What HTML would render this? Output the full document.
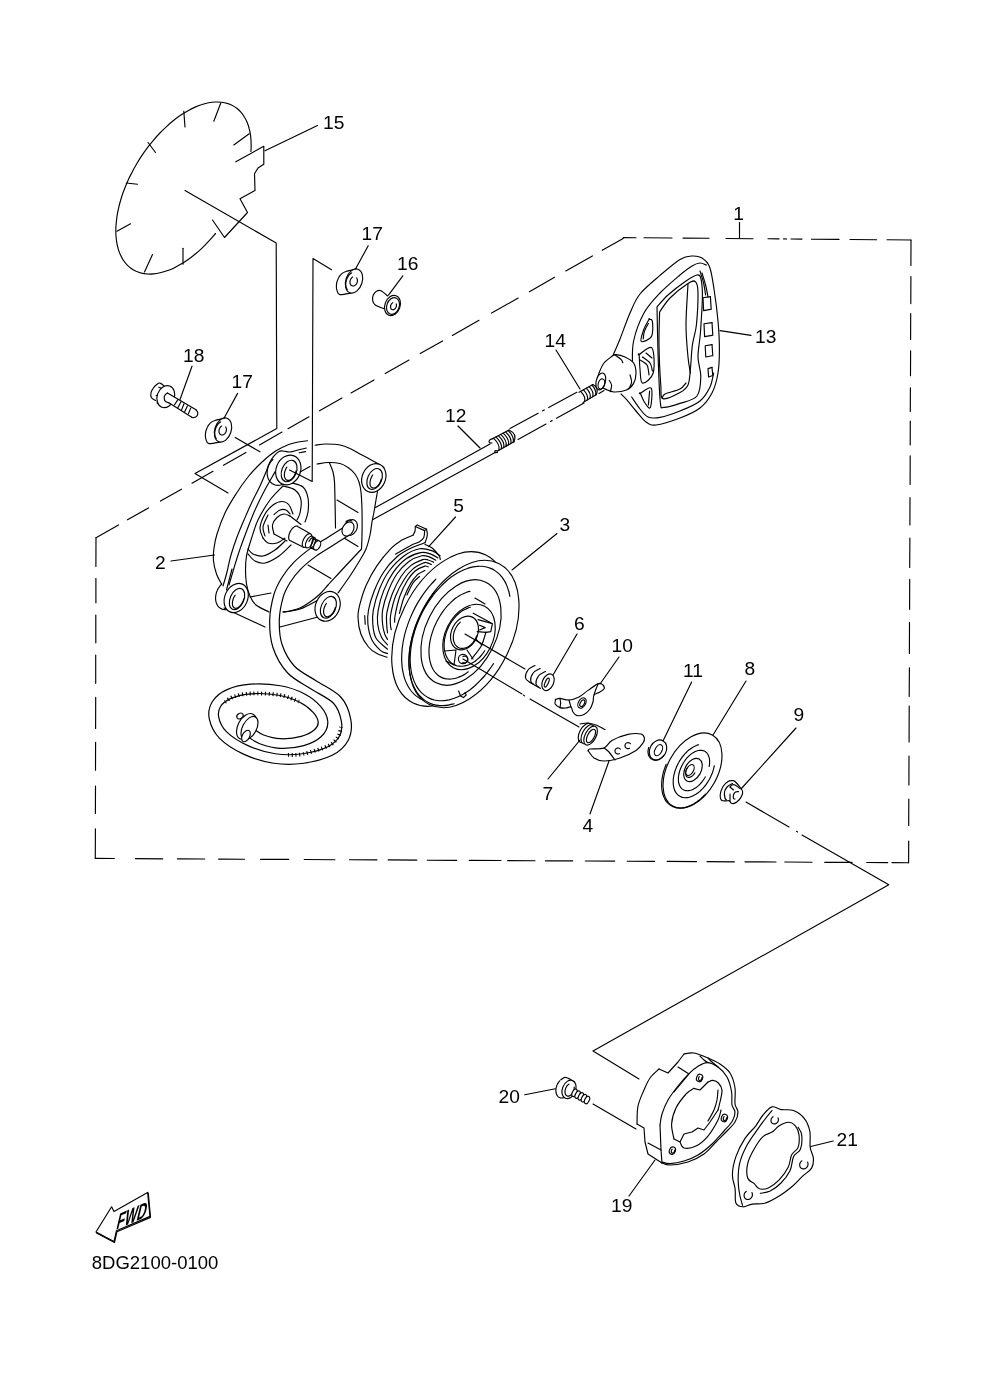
<!DOCTYPE html>
<html><head><meta charset="utf-8"><title>8DG2100-0100</title>
<style>
html,body{margin:0;padding:0;background:#fff;}
body{width:1000px;height:1381px;overflow:hidden;font-family:"Liberation Sans",sans-serif;}
svg{display:block;will-change:transform;filter:grayscale(1);}
svg path,svg ellipse,svg line{fill:none;stroke:#000;stroke-width:1.15;stroke-linecap:round;stroke-linejoin:round;}
svg text{font-family:"Liberation Sans",sans-serif;fill:#000;stroke:none;}
</style></head><body>
<svg width="1000" height="1381" viewBox="0 0 1000 1381">
<rect x="0" y="0" width="1000" height="1381" fill="#fff" stroke="none"/>
<path d="M96 537.7 L118.5 524.9"/>
<path d="M127.5 519.8 L148.5 507.9"/>
<path d="M160.5 501.1 L181.5 489.2"/>
<path d="M192 483.2 L213 471.3"/>
<path d="M223.5 465.3 L246 452.5"/>
<path d="M259.5 444.9 L282 432.1"/>
<path d="M288 428.7 L309 416.8"/>
<path d="M319.5 410.8 L342 398"/>
<path d="M351 392.9 L374 379.9"/>
<path d="M385.2 373.5 L409 360"/>
<path d="M420.2 353.6 L442.6 340.9"/>
<path d="M452.4 335.4 L479 320.3"/>
<path d="M491.6 313.1 L518.2 298"/>
<path d="M529.4 291.7 L554.6 277.3"/>
<path d="M565.8 271 L592.4 255.9"/>
<path d="M602.2 250.3 L623.2 238.4"/>
<path d="M623.2 237.6 L636 237.7"/>
<path d="M644 237.8 L672 238"/>
<path d="M683 238.1 L709 238.3"/>
<path d="M726 238.5 L753 238.7"/>
<path d="M768 238.8 L779 238.9"/>
<path d="M783.6 238.9 L786.7 239"/>
<path d="M791 239 L802 239.1"/>
<path d="M811.5 239.2 L839 239.4"/>
<path d="M850 239.5 L876.6 239.7"/>
<path d="M887 239.8 L911 240"/>
<path d="M911 240 L910.9 265.4"/>
<path d="M910.9 276.6 L910.8 303.6"/>
<path d="M910.7 313.6 L910.6 339.4"/>
<path d="M910.6 350.7 L910.5 375.8"/>
<path d="M910.4 387.7 L910.3 411.6"/>
<path d="M910.3 421 L910.2 445"/>
<path d="M910.2 455.8 L910.1 484.5"/>
<path d="M910 497.6 L909.9 525"/>
<path d="M909.9 538 L909.7 567.5"/>
<path d="M909.7 579.4 L909.6 609.3"/>
<path d="M909.5 622.4 L909.4 653.5"/>
<path d="M909.4 667.8 L909.2 696.5"/>
<path d="M909.2 706 L909.1 742"/>
<path d="M909 756 L908.9 785"/>
<path d="M908.8 799 L908.7 825.5"/>
<path d="M908.7 841 L908.6 862.7"/>
<path d="M95.3 858.4 L114.4 858.5"/>
<path d="M135.4 858.6 L162.7 858.8"/>
<path d="M177.4 858.8 L204.7 859"/>
<path d="M218.6 859.1 L244.6 859.2"/>
<path d="M260.6 859.3 L288.7 859.4"/>
<path d="M304.2 859.5 L334.9 859.7"/>
<path d="M349.6 859.7 L376.9 859.9"/>
<path d="M388.2 859.9 L416.8 860.1"/>
<path d="M427.3 860.2 L456.7 860.3"/>
<path d="M469.3 860.4 L501 860.5"/>
<path d="M507.6 860.6 L535 860.7"/>
<path d="M545.4 860.8 L572.7 860.9"/>
<path d="M585.3 861 L614.7 861.1"/>
<path d="M627.3 861.2 L654.6 861.4"/>
<path d="M667.2 861.4 L696.6 861.6"/>
<path d="M707 861.6 L734.4 861.8"/>
<path d="M745 861.8 L776 862"/>
<path d="M784.8 862 L812 862.2"/>
<path d="M824.7 862.3 L852 862.4"/>
<path d="M866.7 862.5 L887.7 862.6"/>
<path d="M892 862.6 L908.6 862.7"/>
<path d="M96 537.7 L95.9 566.4"/>
<path d="M95.9 578.5 L95.9 602.8"/>
<path d="M95.8 615 L95.8 642.8"/>
<path d="M95.7 655 L95.7 683.3"/>
<path d="M95.7 697.4 L95.6 728.4"/>
<path d="M95.6 742.3 L95.5 770.2"/>
<path d="M95.5 786 L95.4 813.4"/>
<path d="M95.4 828.9 L95.3 858.4"/>
<path d="M739.5 222.5 L739.5 238"/>
<text x="738.7" y="219.5" font-size="19.2" text-anchor="middle">1</text>
<path d="M250.9 151.5 C251 150.2 251.2 146.1 251.1 143.5 C251.1 140.9 250.9 138.4 250.6 135.9 C250.3 133.5 249.9 131.2 249.3 129 C248.8 126.8 248.1 124.7 247.3 122.7 C246.5 120.7 245.6 118.9 244.5 117.2 C243.5 115.4 242.4 113.9 241.1 112.4 C239.9 111 238.5 109.6 237.1 108.5 C235.6 107.3 234 106.3 232.4 105.5 C230.7 104.6 229 103.9 227.2 103.4 C225.4 102.8 223.5 102.4 221.5 102.2 C219.5 102 217.5 101.9 215.4 102 C213.3 102.1 211.1 102.3 208.9 102.7 C206.7 103.2 204.4 103.7 202.1 104.5 C199.8 105.2 197.5 106.1 195.1 107.1 C192.8 108.1 190.4 109.3 188 110.7 C185.7 112 183.3 113.5 180.9 115.1 C178.5 116.7 176.1 118.4 173.8 120.3 C171.4 122.2 169.1 124.2 166.8 126.3 C164.5 128.4 162.2 130.6 159.9 133 C157.7 135.3 155.5 137.7 153.4 140.3 C151.2 142.8 149.1 145.4 147.1 148.1 C145.1 150.8 143.2 153.5 141.3 156.4 C139.5 159.2 137.7 162.1 136 165 C134.3 167.9 132.7 170.9 131.2 173.9 C129.6 176.8 128.2 179.9 126.9 182.9 C125.6 185.9 124.4 189 123.3 192 C122.2 195 121.2 198.1 120.4 201 C119.5 204 118.8 207 118.2 210 C117.5 212.9 117 215.8 116.7 218.6 C116.3 221.4 116.1 224.2 115.9 226.9 C115.8 229.6 115.8 232.3 115.9 234.8 C116.1 237.4 116.3 239.8 116.7 242.2 C117.1 244.5 117.6 246.8 118.2 248.9 C118.8 251.1 119.6 253.1 120.5 255 C121.3 256.9 122.3 258.7 123.4 260.3 C124.5 262 125.7 263.5 127 264.8 C128.3 266.2 129.8 267.4 131.3 268.5 C132.8 269.6 134.4 270.5 136.1 271.3 C137.8 272 139.6 272.6 141.5 273.1 C143.3 273.5 145.3 273.8 147.3 274 C149.3 274.1 151.4 274.1 153.5 273.9 C155.7 273.7 157.9 273.3 160.1 272.8 C162.3 272.3 164.6 271.7 166.9 270.8 C169.2 270 171.6 269.1 174 267.9 C176.3 266.8 178.7 265.5 181.1 264.1 C183.5 262.7 185.9 261.1 188.2 259.5 C190.6 257.8 193 255.9 195.3 254 C197.7 252.1 200 250 202.3 247.8 C204.6 245.6 206.8 243.3 209 240.9 C211.3 238.5 214.4 234.7 215.5 233.5"/>
<path d="M212.5 220 L224.5 237.5 L247.5 212.5 L240 198.8 L255 190.5 L254.5 173.8 L258 168 L263.8 164.2 L263.8 146.2 L235.8 161.8"/>
<path d="M220.8 103 L213.8 121.2"/>
<path d="M183.8 111.2 L185 127"/>
<path d="M148 142.5 L155.5 152.5"/>
<path d="M126.2 183 L137.5 184.2"/>
<path d="M117 231.2 L130.5 223.8"/>
<path d="M144.5 272 L152.5 254.5"/>
<path d="M183 264.2 L183 248.2"/>
<path d="M249.2 133.8 L233.8 145"/>
<path d="M185 190.5 L276.2 243 L276.8 428.6 L195 473.5 L228 493"/>
<path d="M265 150.8 L317.5 125.5"/>
<text x="323" y="129" font-size="19.2" text-anchor="start">15</text>
<path d="M307.6 440.8 C306.1 441 301.7 441.3 298.4 442 C295.1 442.7 291.7 443.3 288 444.8 C284.3 446.3 280.5 447.8 276 450.8 C271.5 453.8 265.7 458.6 261 463 C256.3 467.4 252.2 471.8 248 477 C243.8 482.2 239.8 488 236 494 C232.2 500 228.2 506.3 225 513 C221.8 519.7 218.8 528.2 217 534 C215.2 539.8 214.6 543.5 214 548 C213.4 552.5 213.1 556.7 213.5 561 C213.9 565.3 215.2 570.2 216.5 574 C217.8 577.8 220.7 582.3 221.5 584"/>
<path d="M315.2 445.2 C317 445 321.9 444 326 444 C330.1 444 336 444.2 340 445 C344 445.8 346.3 446.8 350 448.5 C353.7 450.2 357.8 452.8 362 455 C366.2 457.2 371.3 459.9 375 462 C378.7 464.1 382.5 466.6 384 467.5"/>
<path d="M317 464 C318.8 463.8 324.2 462.6 328 462.5 C331.8 462.4 336.7 462.7 340 463.5 C343.3 464.3 345.5 465.8 348 467.5 C350.5 469.2 353.2 471.6 355 474 C356.8 476.4 358 479 359 482 C360 485 360.5 487.3 361 492 C361.5 496.7 361.8 502.8 362 510 C362.2 517.2 362.1 528.5 362 535 C361.9 541.5 361.6 546.7 361.5 549"/>
<path d="M361.5 549 C360.2 550.3 357.6 553.2 354 557 C350.4 560.8 344.3 567.3 340 572 C335.7 576.7 331.3 581.3 328 585 C324.7 588.7 323 591.2 320 594 C317 596.8 313.3 599.7 310 602 C306.7 604.3 303.3 606.5 300 608 C296.7 609.5 292.8 610.3 290 611 C287.2 611.7 284.2 611.8 283 612"/>
<path d="M329.5 463 C330.1 464.5 332.2 468.8 333 472 C333.8 475.2 334.2 477.3 334.5 482 C334.8 486.7 334.8 492.3 335 500 C335.2 507.7 335.4 523.3 335.5 528"/>
<path d="M337 500 L358 512.5"/>
<path d="M344 538 L358 546.5"/>
<path d="M308 565 L331 578.5"/>
<path d="M377.5 491.5 C377.2 492.9 376.6 496.6 376 500 C375.4 503.4 374.7 508.3 374 512 C373.3 515.7 372.7 518.2 372 522 C371.3 525.8 371 530.5 370 535 C369 539.5 367.7 544.8 366 549 C364.3 553.2 362.7 555.5 360 560 C357.3 564.5 353.7 570.5 350 576 C346.3 581.5 340 590.2 338 593"/>
<path d="M306.4 448 C305 448.3 300.7 449.3 298 450 C295.3 450.7 292.5 451.8 290 452 C287.5 452.2 284.8 451.1 283 451 C281.2 450.9 280.6 450.6 279 451.5 C277.4 452.4 275.2 454.5 273.6 456.4 C272 458.3 270.8 460.4 269.5 463 C268.2 465.6 267.6 468.2 266 472 C264.4 475.8 262.3 481 260 486 C257.7 491 254.7 496.3 252 502 C249.3 507.7 246.5 514.2 244 520 C241.5 525.8 239.2 531.2 237 537 C234.8 542.8 232.7 549.2 231 555 C229.3 560.8 228.3 566.8 227 572 C225.7 577.2 223.7 583.7 223 586"/>
<path d="M275.2 471.6 C273.5 474.7 268.2 483.6 264.8 490 C261.4 496.4 258 503.3 255 510 C252 516.7 249.5 523.5 247 530 C244.5 536.5 242.2 542.7 240 549 C237.8 555.3 235.8 562 234 568 C232.2 574 229.8 582.2 229 585"/>
<path d="M305.6 451.6 L299.2 452.8"/>
<path d="M232 569 L226.5 590"/>
<path d="M283 486 C280.8 488.3 274.2 494.3 270 500 C265.8 505.7 261.2 513.3 258 520 C254.8 526.7 252.9 534 251 540 C249.1 546 247.4 551 246.5 556 C245.6 561 245.5 565.3 245.5 570 C245.5 574.7 245.8 579.7 246.5 584 C247.2 588.3 248.4 592.5 250 596 C251.6 599.5 252.8 602.3 256 605 C259.2 607.7 266.8 610.8 269 612"/>
<path d="M283 486 C285 486.7 292 487.7 295 490 C298 492.3 300.2 496.2 301 500 C301.8 503.8 300.7 509.7 300 513 C299.3 516.3 297.5 518.8 297 520"/>
<path d="M292 483 C293.8 483.7 300.3 484.5 303 487 C305.7 489.5 307.2 493.8 308 498 C308.8 502.2 308.5 508 308 512 C307.5 516 305.5 520.3 305 522"/>
<path d="M263 538 C262.5 536.3 259.7 532 260 528 C260.3 524 262.8 517.8 265 514 C267.2 510.2 270.2 507.1 273 505 C275.8 502.9 279.3 501.5 282 501.5 C284.7 501.5 287.2 502.9 289 505 C290.8 507.1 292.3 512.5 293 514" stroke-width="1.6"/>
<path d="M265 536 C264.7 534.5 262.5 530.5 263 527 C263.5 523.5 267.2 517 268 515"/>
<path d="M274 514.5 C275 513.8 278 510.8 280 510 C282 509.2 284.3 509.3 286 510 C287.7 510.7 289.3 513.3 290 514"/>
<path d="M269 533 L268 525"/>
<path d="M248 549 C248.8 549.8 250.5 552.8 253 554 C255.5 555.2 259.3 556.7 263 556 C266.7 555.3 271.3 552.5 275 550 C278.7 547.5 283.3 542.5 285 541" stroke-width="1.5"/>
<path d="M248 554 C249.2 555.2 252.2 559.5 255 561 C257.8 562.5 261 563.8 265 563 C269 562.2 274.7 559 279 556 C283.3 553 289 546.8 291 545"/>
<path d="M263 538 C263.8 538.8 265.7 542.2 268 543 C270.3 543.8 274.2 543.8 277 543 C279.8 542.2 283.7 538.8 285 538"/>
<path d="M224 608 L265 627"/>
<path d="M280 627 L318 617"/>
<path d="M283 612 C285.8 611.5 294.2 611 300 609 C305.8 607 315 601.5 318 600"/>
<path d="M250 597 L271 593"/>
<path d="M292.4 467.4 C292.4 467.7 292.5 468.4 292.4 468.9 C292.4 469.5 292.4 470 292.3 470.5 C292.3 471 292.2 471.5 292 472 C291.9 472.6 291.8 473.1 291.6 473.6 C291.5 474.1 291.3 474.6 291.1 475.1 C290.9 475.6 290.7 476 290.5 476.5 C290.2 477 290 477.5 289.7 477.9 C289.4 478.3 289.1 478.8 288.8 479.2 C288.5 479.6 288.2 480 287.8 480.4 C287.5 480.8 287.1 481.2 286.7 481.5 C286.4 481.9 286 482.2 285.6 482.5 C285.2 482.8 284.8 483.1 284.4 483.3 C284 483.6 283.6 483.8 283.1 484 C282.7 484.2 282.3 484.4 281.8 484.6 C281.4 484.7 281 484.9 280.5 485 C280.1 485.1 279.6 485.2 279.2 485.2 C278.8 485.3 278.3 485.3 277.9 485.3 C277.4 485.3 277 485.3 276.6 485.2 C276.2 485.2 275.7 485.1 275.3 485 C274.9 484.9 274.5 484.8 274.1 484.6 C273.7 484.4 273.3 484.2 273 484 C272.6 483.8 272.2 483.6 271.9 483.3 C271.5 483.1 271.2 482.8 270.9 482.5 C270.6 482.2 270.3 481.9 270 481.5 C269.7 481.2 269.5 480.8 269.2 480.4 C269 480 268.7 479.6 268.5 479.2 C268.3 478.8 268.2 478.4 268 477.9 C267.8 477.5 267.7 477 267.6 476.5 C267.5 476.1 267.4 475.6 267.3 475.1 C267.2 474.6 267.2 474.1 267.2 473.6 C267.1 473.1 267.1 472.6 267.2 472.1 C267.2 471.5 267.2 471 267.3 470.5 C267.3 470 267.4 469.5 267.6 469 C267.7 468.4 267.8 467.9 268 467.4 C268.1 466.9 268.3 466.4 268.5 465.9 C268.7 465.4 268.9 465 269.1 464.5 C269.4 464 269.6 463.5 269.9 463.1 C270.2 462.7 270.5 462.2 270.8 461.8 C271.1 461.4 271.4 461 271.8 460.6 C272.1 460.2 272.7 459.7 272.9 459.5"/>
<ellipse cx="288.3" cy="470" rx="15.2" ry="12.2" transform="rotate(-68 288.3 470)" style="fill:#fff"/>
<ellipse cx="289.1" cy="471" rx="11.2" ry="7.3" transform="rotate(-68 289.1 471)"/>
<path d="M296 470.8 C296 471 295.9 471.4 295.9 471.7 C295.8 472 295.7 472.3 295.6 472.6 C295.5 472.9 295.4 473.2 295.3 473.5 C295.2 473.8 295 474.1 294.9 474.4 C294.8 474.7 294.6 475 294.5 475.3 C294.3 475.5 294.2 475.8 294 476.1 C293.9 476.3 293.7 476.6 293.5 476.9 C293.3 477.1 293.1 477.3 293 477.6 C292.8 477.8 292.6 478 292.4 478.2 C292.2 478.4 292 478.6 291.8 478.8 C291.6 479 291.4 479.1 291.1 479.3 C290.9 479.4 290.7 479.6 290.5 479.7 C290.3 479.8 290.1 479.9 289.9 480 C289.7 480.1 289.5 480.2 289.3 480.2 C289 480.3 288.8 480.3 288.6 480.3 C288.4 480.4 288.2 480.4 288 480.4 C287.8 480.4 287.7 480.3 287.5 480.3 C287.3 480.3 287.1 480.2 286.9 480.1 C286.8 480.1 286.6 480 286.4 479.9 C286.3 479.8 286.1 479.7 286 479.5 C285.8 479.4 285.7 479.3 285.6 479.1 C285.4 478.9 285.3 478.8 285.2 478.6 C285.1 478.4 285 478.2 284.9 478 C284.8 477.8 284.7 477.5 284.7 477.3 C284.6 477.1 284.6 476.8 284.5 476.6 C284.5 476.3 284.4 476.1 284.4 475.8 C284.4 475.5 284.4 475.3 284.4 475 C284.4 474.7 284.4 474.4 284.4 474.1 C284.4 473.8 284.4 473.5 284.5 473.2 C284.5 472.9 284.6 472.6 284.7 472.3 C284.7 472 284.8 471.7 284.9 471.4 C285 471.1 285.1 470.8 285.2 470.5 C285.3 470.2 285.4 469.9 285.5 469.6 C285.6 469.3 285.8 469 285.9 468.7 C286.1 468.4 286.2 468.2 286.4 467.9 C286.5 467.6 286.8 467.2 286.9 467.1"/>
<ellipse cx="373.8" cy="478" rx="14.8" ry="11.6" transform="rotate(-66 373.8 478)" style="fill:#fff"/>
<ellipse cx="374.6" cy="479" rx="11" ry="7" transform="rotate(-66 374.6 479)"/>
<path d="M381.3 479 C381.3 479.1 381.2 479.6 381.1 479.9 C381 480.2 380.9 480.4 380.8 480.7 C380.7 481 380.6 481.3 380.5 481.6 C380.4 481.9 380.2 482.2 380.1 482.5 C379.9 482.7 379.8 483 379.6 483.3 C379.5 483.5 379.3 483.8 379.2 484 C379 484.3 378.8 484.5 378.6 484.8 C378.5 485 378.3 485.2 378.1 485.5 C377.9 485.7 377.7 485.9 377.5 486.1 C377.3 486.3 377.1 486.4 376.9 486.6 C376.7 486.8 376.5 486.9 376.3 487.1 C376.1 487.2 375.9 487.3 375.7 487.4 C375.5 487.5 375.3 487.6 375.1 487.7 C374.9 487.8 374.7 487.9 374.5 487.9 C374.2 488 374.1 488 373.9 488 C373.7 488.1 373.5 488.1 373.3 488.1 C373.1 488 372.9 488 372.7 488 C372.6 487.9 372.4 487.9 372.2 487.8 C372.1 487.7 371.9 487.6 371.8 487.5 C371.6 487.4 371.5 487.3 371.3 487.2 C371.2 487.1 371.1 486.9 371 486.8 C370.9 486.6 370.8 486.4 370.7 486.2 C370.6 486.1 370.5 485.9 370.4 485.7 C370.3 485.4 370.3 485.2 370.2 485 C370.2 484.8 370.1 484.5 370.1 484.3 C370 484 370 483.8 370 483.5 C370 483.3 370 483 370 482.7 C370 482.4 370 482.2 370.1 481.9 C370.1 481.6 370.1 481.3 370.2 481 C370.3 480.7 370.3 480.4 370.4 480.1 C370.5 479.9 370.6 479.6 370.6 479.3 C370.7 479 370.8 478.7 371 478.4 C371.1 478.1 371.2 477.8 371.3 477.5 C371.5 477.2 371.6 477 371.7 476.7 C371.9 476.4 372 476.2 372.2 475.9 C372.4 475.6 372.6 475.3 372.7 475.1"/>
<path d="M239.8 592.1 C239.8 592.3 239.8 593.1 239.7 593.6 C239.7 594.1 239.6 594.6 239.5 595.1 C239.4 595.6 239.3 596.1 239.2 596.6 C239 597.2 238.9 597.7 238.7 598.2 C238.5 598.7 238.3 599.2 238.1 599.6 C237.9 600.1 237.7 600.6 237.4 601.1 C237.2 601.5 236.9 602 236.6 602.4 C236.3 602.9 236 603.3 235.7 603.7 C235.4 604.1 235 604.5 234.7 604.9 C234.4 605.3 234 605.6 233.6 606 C233.3 606.3 232.9 606.6 232.5 606.9 C232.1 607.2 231.7 607.5 231.3 607.7 C230.9 608 230.5 608.2 230.1 608.4 C229.7 608.6 229.2 608.8 228.8 609 C228.4 609.1 228 609.2 227.6 609.3 C227.1 609.4 226.7 609.5 226.3 609.6 C225.9 609.6 225.5 609.6 225 609.6 C224.6 609.6 224.2 609.6 223.8 609.5 C223.4 609.5 223 609.4 222.6 609.3 C222.3 609.2 221.9 609 221.5 608.9 C221.2 608.7 220.8 608.5 220.5 608.3 C220.1 608.1 219.8 607.9 219.5 607.6 C219.2 607.4 218.9 607.1 218.6 606.8 C218.3 606.5 218.1 606.1 217.8 605.8 C217.6 605.5 217.3 605.1 217.1 604.7 C216.9 604.3 216.7 603.9 216.6 603.5 C216.4 603.1 216.3 602.7 216.1 602.2 C216 601.8 215.9 601.3 215.8 600.8 C215.7 600.4 215.7 599.9 215.6 599.4 C215.6 598.9 215.6 598.4 215.6 597.9 C215.6 597.4 215.6 596.9 215.7 596.4 C215.7 595.9 215.8 595.4 215.9 594.9 C216 594.4 216.1 593.9 216.2 593.4 C216.4 592.8 216.5 592.3 216.7 591.8 C216.9 591.3 217.1 590.8 217.3 590.4 C217.5 589.9 217.7 589.4 218 588.9 C218.2 588.5 218.5 588 218.8 587.6 C219.1 587.1 219.4 586.7 219.7 586.3 C220 585.9 220.4 585.5 220.7 585.1 C221 584.7 221.6 584.2 221.8 584"/>
<ellipse cx="236.2" cy="598" rx="15.2" ry="11.4" transform="rotate(-66 236.2 598)" style="fill:#fff"/>
<ellipse cx="237" cy="599" rx="11.2" ry="6.8" transform="rotate(-66 237 599)"/>
<path d="M243.7 598.9 C243.6 599 243.5 599.5 243.4 599.8 C243.4 600.1 243.3 600.4 243.2 600.7 C243 601 242.9 601.3 242.8 601.6 C242.7 601.9 242.5 602.1 242.4 602.4 C242.3 602.7 242.1 603 242 603.3 C241.8 603.5 241.6 603.8 241.5 604.1 C241.3 604.3 241.1 604.6 240.9 604.8 C240.7 605.1 240.6 605.3 240.4 605.5 C240.2 605.7 240 606 239.8 606.2 C239.6 606.4 239.4 606.5 239.2 606.7 C239 606.9 238.8 607 238.6 607.2 C238.4 607.3 238.2 607.5 238 607.6 C237.7 607.7 237.5 607.8 237.3 607.9 C237.1 608 236.9 608.1 236.7 608.1 C236.5 608.2 236.3 608.2 236.1 608.2 C235.9 608.3 235.8 608.3 235.6 608.3 C235.4 608.3 235.2 608.2 235 608.2 C234.9 608.1 234.7 608.1 234.5 608 C234.4 607.9 234.2 607.9 234.1 607.8 C233.9 607.7 233.8 607.5 233.7 607.4 C233.5 607.3 233.4 607.1 233.3 607 C233.2 606.8 233.1 606.6 233 606.5 C232.9 606.3 232.8 606.1 232.8 605.9 C232.7 605.7 232.6 605.4 232.6 605.2 C232.5 605 232.5 604.7 232.5 604.5 C232.4 604.2 232.4 604 232.4 603.7 C232.4 603.4 232.4 603.2 232.4 602.9 C232.4 602.6 232.5 602.3 232.5 602 C232.5 601.7 232.6 601.4 232.6 601.1 C232.7 600.8 232.8 600.5 232.8 600.2 C232.9 599.9 233 599.6 233.1 599.3 C233.2 599 233.3 598.7 233.4 598.4 C233.5 598.1 233.7 597.8 233.8 597.6 C233.9 597.3 234.1 597 234.2 596.7 C234.4 596.4 234.5 596.1 234.7 595.9 C234.9 595.6 235.1 595.2 235.2 595.1"/>
<ellipse cx="327.6" cy="606.3" rx="15.4" ry="12" transform="rotate(-66 327.6 606.3)" style="fill:#fff"/>
<ellipse cx="328.4" cy="607.3" rx="11.4" ry="7.2" transform="rotate(-66 328.4 607.3)"/>
<path d="M335.3 607.2 C335.3 607.4 335.2 607.8 335.1 608.1 C335 608.5 334.9 608.8 334.8 609.1 C334.7 609.4 334.6 609.7 334.4 610 C334.3 610.3 334.2 610.6 334 610.8 C333.9 611.1 333.7 611.4 333.6 611.7 C333.4 612 333.2 612.2 333.1 612.5 C332.9 612.8 332.7 613 332.5 613.3 C332.3 613.5 332.2 613.7 332 614 C331.8 614.2 331.6 614.4 331.4 614.6 C331.1 614.8 330.9 615 330.7 615.2 C330.5 615.3 330.3 615.5 330.1 615.6 C329.9 615.8 329.7 615.9 329.5 616 C329.2 616.2 329 616.3 328.8 616.3 C328.6 616.4 328.4 616.5 328.2 616.6 C328 616.6 327.8 616.6 327.6 616.7 C327.4 616.7 327.2 616.7 327 616.7 C326.8 616.7 326.6 616.6 326.4 616.6 C326.2 616.6 326.1 616.5 325.9 616.4 C325.7 616.4 325.6 616.3 325.4 616.2 C325.3 616.1 325.1 615.9 325 615.8 C324.8 615.7 324.7 615.5 324.6 615.3 C324.5 615.2 324.4 615 324.3 614.8 C324.2 614.6 324.1 614.4 324 614.2 C323.9 614 323.9 613.8 323.8 613.5 C323.7 613.3 323.7 613 323.7 612.8 C323.6 612.5 323.6 612.3 323.6 612 C323.6 611.7 323.6 611.4 323.6 611.1 C323.6 610.9 323.6 610.6 323.7 610.3 C323.7 610 323.7 609.7 323.8 609.4 C323.9 609.1 323.9 608.8 324 608.5 C324.1 608.2 324.2 607.9 324.3 607.6 C324.4 607.2 324.5 606.9 324.6 606.6 C324.7 606.3 324.8 606 325 605.8 C325.1 605.5 325.3 605.2 325.4 604.9 C325.6 604.6 325.7 604.3 325.9 604.1 C326.1 603.8 326.3 603.4 326.4 603.3"/>
<path d="M331.5 269.8 L313 258.6 L312.2 481.5 L289.5 470"/>
<path d="M300 472 L310 466.5"/>
<path d="M346 531.5 C343.5 533.1 336.5 537.5 331 541 C325.5 544.5 318.7 548.3 313 552.5 C307.3 556.7 301.5 561.4 297 566 C292.5 570.6 289.1 575 286 580 C282.9 585 280.4 589.3 278.5 596 C276.6 602.7 274.7 611.7 274.5 620 C274.3 628.3 274.8 637.8 277.5 646 C280.2 654.2 285.1 663.1 291 669.5 C296.9 675.9 305.3 679.4 313 684.5 C320.7 689.6 331.5 694.1 337 700 C342.5 705.9 344.8 713.7 346 720 C347.2 726.3 346.7 732.8 344 738 C341.3 743.2 336.8 747.6 330 751 C323.2 754.4 312.2 757.2 303 758.5 C293.8 759.8 284 759.9 274.5 758.5 C265 757.1 254.6 753.9 246 750 C237.4 746.1 228.3 740.3 223 735 C217.7 729.7 215.1 723.2 214 718 C212.9 712.8 214 708 216.5 704 C219 700 223.2 696.5 229 694 C234.8 691.5 242.6 689.6 251 689 C259.4 688.4 271 689 279.5 690.5 C288 692 295.8 694.8 302 698 C308.2 701.2 313.5 705.5 317 709.5 C320.5 713.5 322.8 718.1 323 722 C323.2 725.9 321.4 729.8 318 733 C314.6 736.2 308.8 739.2 302.5 741 C296.2 742.8 286.8 743.8 280 743.5 C273.2 743.2 266.8 741.2 262 739.5 C257.2 737.8 252.8 734.1 251 733" style="stroke:#000;stroke-width:10.8;stroke-linecap:butt"/>
<path d="M346 531.5 C343.5 533.1 336.5 537.5 331 541 C325.5 544.5 318.7 548.3 313 552.5 C307.3 556.7 301.5 561.4 297 566 C292.5 570.6 289.1 575 286 580 C282.9 585 280.4 589.3 278.5 596 C276.6 602.7 274.7 611.7 274.5 620 C274.3 628.3 274.8 637.8 277.5 646 C280.2 654.2 285.1 663.1 291 669.5 C296.9 675.9 305.3 679.4 313 684.5 C320.7 689.6 331.5 694.1 337 700 C342.5 705.9 344.8 713.7 346 720 C347.2 726.3 346.7 732.8 344 738 C341.3 743.2 336.8 747.6 330 751 C323.2 754.4 312.2 757.2 303 758.5 C293.8 759.8 284 759.9 274.5 758.5 C265 757.1 254.6 753.9 246 750 C237.4 746.1 228.3 740.3 223 735 C217.7 729.7 215.1 723.2 214 718 C212.9 712.8 214 708 216.5 704 C219 700 223.2 696.5 229 694 C234.8 691.5 242.6 689.6 251 689 C259.4 688.4 271 689 279.5 690.5 C288 692 295.8 694.8 302 698 C308.2 701.2 313.5 705.5 317 709.5 C320.5 713.5 322.8 718.1 323 722 C323.2 725.9 321.4 729.8 318 733 C314.6 736.2 308.8 739.2 302.5 741 C296.2 742.8 286.8 743.8 280 743.5 C273.2 743.2 266.8 741.2 262 739.5 C257.2 737.8 252.8 734.1 251 733" style="stroke:#fff;stroke-width:8.4;stroke-linecap:butt"/>
<path d="M225 702 C226.5 701.1 229.7 697.9 234 696.5 C238.3 695.1 243.4 693.8 251 693.5 C258.6 693.2 271.5 693.7 279.5 695 C287.5 696.3 295.8 700.4 299 701.5" style="stroke:#000;stroke-width:3.8;stroke-dasharray:1.1 2.7;stroke-linecap:butt"/>
<path d="M288 755 C290.5 754.8 296.3 755.5 303 754 C309.7 752.5 322.2 748.8 328 746 C333.8 743.2 335.8 740.2 338 737 C340.2 733.8 340.5 728.7 341 727" style="stroke:#000;stroke-width:3.8;stroke-dasharray:1.1 2.7;stroke-linecap:butt"/>
<ellipse cx="240" cy="716" rx="3.4" ry="2.6" transform="rotate(-30 240 716)" style="fill:#fff"/>
<ellipse cx="246.5" cy="726.5" rx="14" ry="8.5" transform="rotate(-62 246.5 726.5)" style="fill:#fff"/>
<ellipse cx="249.5" cy="728" rx="12.5" ry="7" transform="rotate(-62 249.5 728)" style="fill:#fff"/>
<ellipse cx="246" cy="736" rx="6.2" ry="3.6" transform="rotate(-62 246 736)" style="fill:#fff"/>
<path d="M274 534 C273.8 532.5 272 527.8 272.5 525 C273 522.2 275.1 519.3 277 517.5 C278.9 515.7 281.8 514.2 284 514 C286.2 513.8 289 515.7 290 516"/>
<path d="M290 516 L301 524.5"/>
<path d="M274 534 L287 541"/>
<ellipse cx="294" cy="533.5" rx="8.2" ry="4.2" transform="rotate(-62 294 533.5)" style="fill:#fff;stroke:none"/>
<path d="M297.8 526.3 L310 533.5 L304 547.5 L290.2 540.7 Z" style="fill:#fff;stroke:none"/>
<path d="M289.8 540.5 C289.8 540.5 289.6 540.3 289.5 540.2 C289.4 540.1 289.3 540 289.2 539.8 C289.1 539.7 289.1 539.5 289 539.4 C288.9 539.2 288.9 539 288.8 538.9 C288.8 538.7 288.7 538.5 288.7 538.3 C288.7 538.1 288.7 537.8 288.7 537.6 C288.7 537.4 288.7 537.2 288.7 536.9 C288.7 536.7 288.7 536.5 288.7 536.2 C288.8 536 288.8 535.7 288.9 535.5 C288.9 535.2 289 534.9 289 534.7 C289.1 534.4 289.2 534.2 289.3 533.9 C289.4 533.6 289.5 533.4 289.6 533.1 C289.7 532.8 289.8 532.6 289.9 532.3 C290 532 290.2 531.8 290.3 531.5 C290.4 531.3 290.6 531 290.7 530.8 C290.9 530.5 291 530.3 291.2 530 C291.3 529.8 291.5 529.6 291.7 529.4 C291.9 529.1 292 528.9 292.2 528.7 C292.4 528.5 292.6 528.3 292.7 528.1 C292.9 528 293.1 527.8 293.3 527.6 C293.5 527.5 293.7 527.3 293.9 527.2 C294.1 527 294.2 526.9 294.4 526.8 C294.6 526.6 294.8 526.5 295 526.5 C295.2 526.4 295.4 526.3 295.5 526.2 C295.7 526.2 295.9 526.1 296.1 526.1 C296.2 526 296.4 526 296.6 526 C296.8 526 296.9 526 297.1 526 C297.2 526 297.4 526.1 297.5 526.1"/>
<path d="M297.6 526.4 L310 533.5"/>
<path d="M290.4 540.8 L304 547.5"/>
<ellipse cx="307" cy="540.5" rx="7.6" ry="3.6" transform="rotate(-62 307 540.5)" style="fill:#fff"/>
<ellipse cx="309.5" cy="542" rx="6.4" ry="3" transform="rotate(-62 309.5 542)" style="fill:#fff"/>
<path d="M308.9 541.6 C308.9 541.5 309.1 541.2 309.2 541 C309.3 540.8 309.4 540.6 309.5 540.4 C309.7 540.3 309.8 540.1 309.9 539.9 C310 539.7 310.2 539.6 310.3 539.4 C310.4 539.3 310.6 539.1 310.7 539 C310.8 538.8 311 538.7 311.1 538.5 C311.3 538.4 311.4 538.3 311.5 538.2 C311.7 538.1 311.8 538 312 537.9 C312.1 537.8 312.2 537.7 312.4 537.6 C312.5 537.5 312.6 537.5 312.8 537.4 C312.9 537.3 313 537.3 313.2 537.3 C313.3 537.2 313.4 537.2 313.5 537.2 C313.7 537.2 313.8 537.2 313.9 537.2 C314 537.2 314.1 537.2 314.2 537.2 C314.3 537.3 314.4 537.3 314.5 537.3 C314.6 537.4 314.7 537.5 314.8 537.5 C314.8 537.6 314.9 537.7 315 537.8 C315.1 537.9 315.1 538 315.2 538.1 C315.2 538.2 315.3 538.3 315.3 538.4 C315.4 538.5 315.4 538.7 315.4 538.8 C315.5 539 315.5 539.1 315.5 539.3 C315.5 539.4 315.5 539.6 315.5 539.7 C315.5 539.9 315.5 540.1 315.5 540.3 C315.5 540.4 315.4 540.6 315.4 540.8 C315.4 541 315.3 541.2 315.3 541.4 C315.3 541.6 315.2 541.8 315.1 542 C315.1 542.2 315 542.4 314.9 542.6 C314.9 542.8 314.8 543 314.7 543.2 C314.6 543.4 314.5 543.6 314.4 543.8 C314.4 544 314.2 544.3 314.1 544.4"/>
<path d="M313 538.5 L319 541 L316.5 550 L310.5 547.5 Z" fill="#fff" stroke="none"/>
<path d="M313 538.3 L318.5 540.6"/>
<path d="M310.2 547.7 L315.7 550"/>
<ellipse cx="317.2" cy="545.3" rx="5" ry="3" transform="rotate(-62 317.2 545.3)" style="fill:#fff"/>
<ellipse cx="350.5" cy="527.5" rx="8.4" ry="6.4" transform="rotate(-60 350.5 527.5)" style="fill:#fff"/>
<ellipse cx="348" cy="529" rx="7.6" ry="5.4" transform="rotate(-60 348 529)" style="fill:#fff"/>
<path d="M346 521.5 C346.5 521.2 348 520.1 349 520 C350 519.9 351.5 520.8 352 521"/>
<path d="M375.5 507.5 L490 444"/>
<path d="M373 519.5 L496 452"/>
<path d="M510 428.5 L581 390" stroke-dasharray="32 5 2 5"/>
<path d="M518 439.5 L584 403" stroke-dasharray="32 5 2 5"/>
<path d="M492 439 L509 430 L514 441.8 L497.5 451 Z" style="fill:#fff;stroke:none"/>
<path d="M492 439 L509 430" stroke-width="1.5"/>
<path d="M497.5 451 L514 441.8" stroke-width="1.3"/>
<path d="M493.5 438.2 Q500.4 444.9 498.9 450.2"/>
<path d="M495.9 436.9 Q502.8 443.5 501.3 448.9"/>
<path d="M498.3 435.7 Q505.2 442.2 503.6 447.6"/>
<path d="M500.7 434.4 Q507.6 440.9 506 446.3"/>
<path d="M503.2 433.1 Q510 439.6 508.3 445"/>
<path d="M505.6 431.8 Q512.4 438.4 510.7 443.6"/>
<path d="M508 430.5 Q514.7 437.1 513.1 442.3"/>
<path d="M509 430 Q517.5 434 514 441.8" stroke-width="1.4"/>
<path d="M493 438.5 C492.4 438.8 490.2 439.5 489.6 440.2 C489 440.9 489 442.1 489.4 442.6 C489.8 443.1 491.6 442.9 492 443"/>
<path d="M497.6 451 C497.2 450.9 495.6 450.3 495.2 450.6 C494.8 450.9 494.6 452.3 495 452.6 C495.4 452.9 497.1 452.4 497.5 452.4"/>
<path d="M579 392.3 L593 384.5 L596.5 394.5 L583 402.5 Z" style="fill:#fff;stroke:none"/>
<path d="M579 392.3 L593 384.5" stroke-width="1.5"/>
<path d="M583 402.5 L596.5 394.5" stroke-width="1.3"/>
<path d="M580.7 391.4 Q586 397 584.6 401.5"/>
<path d="M583.5 389.8 Q588.8 395.4 587.3 399.9"/>
<path d="M586.3 388.2 Q591.5 393.8 590 398.3"/>
<path d="M589.1 386.7 Q594.3 392.2 592.7 396.7"/>
<path d="M591.9 385.1 Q597 390.6 595.4 395.1"/>
<path d="M593 384.5 Q599 388 596.5 394.5" stroke-width="1.3"/>
<path d="M596 385.5 L602 382.3"/>
<path d="M599 393.5 L604 390.5"/>
<path d="M413 535.2 C411 536.1 404.6 538.4 401 540.6 C397.4 542.8 395.3 544 391.3 548.2 C387.3 552.4 381.2 559.5 377 565.6 C372.8 571.7 369.2 578.5 366.3 585 C363.4 591.5 361.2 599.2 359.8 604.7 C358.4 610.2 357.8 612.8 358 617.7 C358.2 622.6 359.1 629.1 360.9 634 C362.6 638.9 365.8 643.7 368.5 647 C371.2 650.3 373.9 651.9 377 653.6 C380.1 655.3 385.3 656.7 387 657.3"/>
<path d="M425 542.8 C422.6 543.7 415.5 545.8 410.8 548.2 C406.1 550.6 401.2 553 396.7 557 C392.2 561 387.5 566.2 383.7 572 C379.9 577.8 376.4 585.4 373.9 591.7 C371.4 598 369.5 604.6 368.5 610 C367.5 615.4 367.4 619.1 367.9 624 C368.4 628.9 369.6 635 371.7 639.4 C373.8 643.8 377.8 647.9 380.4 650.3 C383 652.7 386.3 653 387.5 653.6"/>
<path d="M413 535.2 C413.3 534.5 414.6 532.5 415 531 C415.4 529.5 415.2 527.2 415.3 526.5"/>
<path d="M415.3 526.5 L417.3 524.9 L426.5 529.2"/>
<path d="M426.5 529.2 C426.6 530.2 427.6 532.9 427.3 535.2 C427.1 537.5 425.4 541.5 425 542.8"/>
<path d="M415.8 526.8 L424.6 530.6 L426.5 529.2"/>
<path d="M424.6 530.6 C424.5 531.7 424.7 535.5 423.8 537.4 C422.9 539.2 421.7 540.4 419.5 541.7 C417.3 543.1 414.8 543.4 410.8 545.5 C406.8 547.6 398.1 552.8 395.6 554.2"/>
<path d="M425 544.4 C426.2 545 430.2 546.3 432.5 548.2 C434.8 550.1 437.7 553.9 439 555.8 C440.3 557.7 440.1 558.9 440.3 559.5" stroke-width="1.4"/>
<path d="M364.7 615.5 L365.2 624.2"/>
<path d="M440.1 555.8 C438.9 555 436 552.1 432.5 550.9 C429.1 549.8 424.2 548 419.5 548.8 C414.8 549.6 409.4 552.1 404.3 555.8 C399.2 559.5 393.3 565.4 389.1 571 C384.9 576.6 381.9 583 379.3 589.5 C376.7 596 374.4 604.3 373.3 610.1 C372.3 615.9 372.3 619.5 372.8 624.2 C373.3 628.9 373.6 634.2 376.1 638.3 C378.5 642.5 385.6 647.4 387.5 649.2"/>
<path d="M437.9 558 C436.7 557.3 433.2 554.8 430.3 553.9 C427.5 553 424.6 551.8 420.6 552.6 C416.6 553.4 411 555.3 406.5 558.5 C401.9 561.8 397.2 566.8 393.4 572.1 C389.6 577.5 386.2 584.2 383.7 590.6 C381.1 596.9 379.2 604.5 378.2 610.1 C377.2 615.7 377.1 619.7 377.7 624.2 C378.2 628.8 379.9 633.8 381.5 637.3 C383.1 640.7 386.5 643.6 387.5 644.9"/>
<path d="M435.8 560.2 C434.7 559.6 431.6 557.6 429.3 556.9 C426.9 556.2 425.1 555 421.7 555.8 C418.2 556.6 412.8 558.7 408.6 561.8 C404.5 564.9 400.1 569.3 396.7 574.3 C393.3 579.3 390.4 585.7 388 591.7 C385.6 597.6 383.5 604.7 382.6 610.1 C381.7 615.5 382.2 620.3 382.6 624.2 C382.9 628.2 383.9 631.5 384.7 634 C385.6 636.5 387 638.5 387.5 639.4"/>
<path d="M433.6 562.3 C432.7 561.9 430 560.4 428.2 560 C426.4 559.5 425.6 558.7 422.7 559.6 C419.9 560.6 414.4 562.8 410.8 565.6 C407.2 568.4 404.1 571.8 401 576.5 C398 581.2 394.7 587.9 392.3 593.8 C390 599.8 387.9 607.2 386.9 612.3 C386 617.4 386.6 620.8 386.7 624.2 C386.8 627.7 387.3 631.5 387.5 632.9"/>
<path d="M431.4 564.5 C430.7 564.2 428.4 563.2 427.1 562.9 C425.8 562.6 426.2 561.9 423.8 562.9 C421.5 563.9 416.2 566.1 413 568.9 C409.7 571.6 407.2 574.7 404.3 579.2 C401.4 583.7 397.9 590.1 395.6 596 C393.3 601.9 391.6 609.8 390.7 614.5 C389.8 619.2 390.3 621.7 390.4 624.2 C390.5 626.8 391.1 628.8 391.3 629.7"/>
<path d="M428.2 566.9 C427.6 566.8 427.1 565.5 424.9 566.1 C422.7 566.8 418 568.7 415.1 571 C412.3 573.4 410.1 576.1 407.5 580.3 C405 584.4 402 590.1 399.9 596 C397.9 601.9 395.9 611.2 395.1 615.5 C394.2 619.9 394.8 621 394.7 622.1"/>
<path d="M424.9 570.5 C423.7 571.2 419.8 572.6 417.3 574.8 C414.9 577.1 412.5 580.2 410.3 584.1 C408 588 405.6 593.3 403.7 598.2 C401.9 603.1 400.1 610.8 399.4 613.4"/>
<path d="M419.5 576.5 C418.4 577.5 415.1 579.9 413 583 C410.9 586.1 408 592.9 407 594.9"/>
<ellipse cx="449.5" cy="629" rx="82.4" ry="50" transform="rotate(-63.8 449.5 629)" style="fill:#fff"/>
<path d="M465.1 690.5 C464.2 691.2 461.4 693.2 459.5 694.3 C457.7 695.5 455.8 696.5 453.9 697.5 C452 698.4 450.1 699.2 448.2 699.8 C446.4 700.5 444.5 701 442.7 701.4 C440.9 701.8 439 702.1 437.3 702.2 C435.5 702.3 433.7 702.3 432 702.2 C430.3 702.1 428.7 701.8 427.1 701.4 C425.5 701 423.9 700.5 422.4 699.8 C420.9 699.2 419.5 698.4 418.1 697.4 C416.8 696.5 415.5 695.5 414.3 694.3 C413.1 693.2 411.9 691.9 410.8 690.5 C409.8 689.1 408.8 687.6 407.9 686 C407 684.4 406.2 682.7 405.5 680.9 C404.8 679.1 404.2 677.2 403.7 675.3 C403.2 673.3 402.8 671.2 402.4 669.1 C402.1 667 401.9 664.8 401.8 662.5 C401.6 660.3 401.6 657.9 401.7 655.6 C401.8 653.2 401.9 650.8 402.2 648.4 C402.5 645.9 402.9 643.4 403.3 641 C403.8 638.5 404.4 635.9 405 633.4 C405.7 630.9 406.4 628.4 407.3 625.9 C408.1 623.4 409.1 620.9 410.1 618.4 C411.1 615.9 412.2 613.5 413.4 611 C414.5 608.6 415.8 606.2 417.1 603.9 C418.4 601.6 419.9 599.3 421.3 597.1 C422.8 594.9 424.3 592.7 425.9 590.6 C427.5 588.6 429.1 586.6 430.8 584.7 C432.4 582.7 435.1 580.1 435.9 579.2"/>
<ellipse cx="464" cy="634" rx="78.5" ry="47.6" transform="rotate(-63.8 464 634)" stroke-width="1.3" style="fill:#fff"/>
<path d="M493.5 663.6 C492.8 664.6 490.8 667.8 489.3 669.7 C487.9 671.7 486.4 673.6 484.9 675.5 C483.3 677.3 481.7 679.1 480.1 680.7 C478.5 682.4 476.8 684 475.2 685.5 C473.5 687 471.8 688.4 470.1 689.7 C468.3 690.9 466.6 692.1 464.8 693.2 C463.1 694.3 461.3 695.3 459.6 696.1 C457.8 697 456.1 697.7 454.3 698.3 C452.6 699 450.8 699.5 449.1 699.9 C447.4 700.2 445.7 700.5 444.1 700.6 C442.4 700.8 440.8 700.8 439.2 700.7 C437.6 700.6 436 700.3 434.5 700 C433 699.6 431.6 699.2 430.2 698.6 C428.8 698 427.4 697.3 426.1 696.4 C424.9 695.6 423.6 694.7 422.5 693.6 C421.3 692.6 420.2 691.4 419.2 690.2 C418.2 688.9 417.3 687.5 416.5 686.1 C415.6 684.6 414.8 683 414.2 681.4 C413.5 679.7 412.9 678 412.4 676.2 C411.8 674.4 411.4 672.5 411.1 670.5 C410.8 668.6 410.5 666.5 410.4 664.4 C410.2 662.4 410.1 660.2 410.2 658 C410.2 655.8 410.3 653.6 410.6 651.3 C410.8 649.1 411.1 646.8 411.5 644.5 C411.9 642.2 412.4 639.8 412.9 637.5 C413.5 635.1 414.2 632.8 414.9 630.4 C415.7 628.1 416.5 625.7 417.4 623.4 C418.3 621.1 419.3 618.8 420.3 616.5 C421.4 614.3 422.5 612 423.7 609.8 C424.9 607.6 426.2 605.5 427.5 603.4 C428.8 601.3 430.2 599.2 431.7 597.3 C433.1 595.3 434.6 593.4 436.1 591.5 C437.7 589.7 439.3 587.9 440.9 586.3 C442.5 584.6 444.2 583 445.8 581.5 C447.5 580 449.2 578.6 450.9 577.3 C452.7 576.1 454.4 574.9 456.2 573.8 C457.9 572.7 459.7 571.7 461.4 570.9 C463.2 570 464.9 569.3 466.7 568.7 C468.4 568 470.2 567.5 471.9 567.1 C473.6 566.8 475.3 566.5 476.9 566.4 C478.6 566.2 480.2 566.2 481.8 566.3 C483.4 566.4 485 566.7 486.5 567 C488 567.4 489.4 567.8 490.8 568.4 C492.2 569 493.6 569.7 494.9 570.6 C496.1 571.4 497.4 572.3 498.5 573.4 C499.7 574.4 500.8 575.6 501.8 576.8 C502.8 578.1 503.7 579.5 504.5 580.9 C505.4 582.4 506.2 584 506.8 585.6 C507.5 587.3 508.1 589 508.6 590.8 C509.2 592.6 509.7 595.5 509.9 596.5"/>
<ellipse cx="461" cy="632.5" rx="56.1" ry="35.2" transform="rotate(-63.8 461 632.5)"/>
<path d="M468.3 671.8 C467.7 672.2 466 673.5 464.8 674.2 C463.7 674.9 462.5 675.5 461.4 676.1 C460.2 676.6 459 677.1 457.9 677.5 C456.7 677.9 455.6 678.3 454.5 678.5 C453.4 678.8 452.2 678.9 451.1 679 C450.1 679.1 449 679.1 447.9 679 C446.9 679 445.9 678.8 444.9 678.6 C443.9 678.3 442.9 678 442 677.6 C441.1 677.2 440.2 676.8 439.4 676.2 C438.5 675.7 437.7 675 437 674.3 C436.2 673.6 435.5 672.9 434.8 672 C434.2 671.2 433.6 670.3 433 669.3 C432.5 668.3 432 667.3 431.5 666.2 C431.1 665.1 430.7 663.9 430.4 662.7 C430 661.5 429.8 660.3 429.6 659 C429.3 657.7 429.2 656.3 429.1 655 C429 653.6 429 652.2 429 650.7 C429 649.3 429.1 647.8 429.3 646.3 C429.4 644.8 429.7 643.3 429.9 641.8 C430.2 640.2 430.5 638.7 430.9 637.2 C431.3 635.6 431.8 634.1 432.3 632.5 C432.8 631 433.3 629.4 433.9 627.9 C434.5 626.4 435.2 624.9 435.9 623.4 C436.6 621.9 437.4 620.4 438.2 619 C439 617.5 439.8 616.1 440.7 614.7 C441.6 613.4 442.5 612 443.5 610.7 C444.4 609.4 445.4 608.2 446.4 607 C447.5 605.8 448.5 604.7 449.6 603.6 C450.6 602.5 451.7 601.5 452.9 600.5 C454 599.5 455.1 598.6 456.2 597.8 C457.4 597 458.5 596.2 459.7 595.5 C460.8 594.8 462 594.2 463.2 593.7 C464.3 593.1 465.5 592.7 466.6 592.3 C467.8 591.9 469.4 591.5 470 591.4"/>
<path d="M454.1 703.7 C453.1 703.9 450.3 704.8 448.5 705.1 C446.7 705.4 444.8 705.6 443.1 705.6 C441.3 705.7 439.6 705.6 437.9 705.4 C436.2 705.2 434.6 704.8 433 704.4 C431.4 703.9 429.9 703.3 428.4 702.5 C426.9 701.8 425.5 700.9 424.2 699.9 C422.9 698.9 421.6 697.8 420.4 696.5 C419.3 695.3 418.2 693.9 417.1 692.5 C416.1 691 415.2 689.4 414.4 687.8 C413.5 686.1 412.8 684.3 412.1 682.4 C411.5 680.6 410.9 678.6 410.5 676.6 C410 674.5 409.6 672.4 409.4 670.2 C409.1 668 409 665.8 408.9 663.4 C408.8 661.1 408.9 658.8 409 656.3 C409.2 653.9 409.4 651.5 409.7 649 C410.1 646.5 410.5 644 411.1 641.5 C411.6 639 412.2 636.4 413 633.9 C413.7 631.4 414.5 628.8 415.4 626.3 C416.3 623.8 417.3 621.3 418.4 618.8 C419.5 616.3 420.7 613.8 421.9 611.4 C423.1 609 424.5 606.7 425.8 604.3 C427.2 602 428.7 599.8 430.2 597.6 C431.7 595.4 434.1 592.3 434.9 591.3"/>
<ellipse cx="469" cy="637" rx="34.5" ry="23.8" transform="rotate(-63.8 469 637)"/>
<path d="M484.7 650.8 C484.4 651.3 483.5 652.6 482.8 653.5 C482.2 654.3 481.5 655.2 480.8 656 C480.1 656.8 479.3 657.5 478.6 658.2 C477.8 658.9 477.1 659.6 476.3 660.2 C475.5 660.9 474.7 661.5 473.9 662 C473.1 662.5 472.2 663 471.4 663.5 C470.6 663.9 469.7 664.3 468.9 664.7 C468 665 467.2 665.3 466.4 665.5 C465.5 665.7 464.7 665.9 463.9 666 C463 666.2 462.2 666.2 461.4 666.2 C460.6 666.3 459.8 666.2 459 666.1 C458.2 666 457.5 665.9 456.7 665.7 C456 665.5 455.3 665.2 454.6 664.9 C453.9 664.6 453.2 664.2 452.6 663.8 C451.9 663.4 451.3 662.9 450.7 662.4 C450.2 661.9 449.6 661.3 449.1 660.7 C448.6 660.1 448.1 659.4 447.7 658.7 C447.2 658 446.8 657.3 446.5 656.5 C446.1 655.8 445.8 654.9 445.5 654.1 C445.2 653.3 445 652.4 444.8 651.5 C444.6 650.6 444.4 649.6 444.3 648.7 C444.2 647.7 444.2 646.7 444.1 645.7 C444.1 644.7 444.1 643.7 444.2 642.7 C444.3 641.7 444.4 640.6 444.5 639.6 C444.7 638.6 444.9 637.5 445.2 636.5 C445.4 635.4 445.7 634.4 446 633.3 C446.3 632.3 446.7 631.3 447.1 630.2 C447.5 629.2 448 628.2 448.4 627.2 C448.9 626.2 449.4 625.2 450 624.3 C450.5 623.3 451.1 622.4 451.7 621.5 C452.4 620.6 453 619.7 453.7 618.9 C454.4 618 455.1 617.2 455.8 616.4 C456.5 615.7 457.2 614.9 458 614.2 C458.8 613.5 459.5 612.9 460.3 612.3 C461.1 611.7 462 611.1 462.8 610.6 C463.6 610.1 464.4 609.6 465.3 609.2 C466.1 608.8 466.9 608.4 467.8 608.1 C468.6 607.8 469.9 607.4 470.3 607.3"/>
<ellipse cx="464.5" cy="633" rx="17.7" ry="12.9" transform="rotate(-63.8 464.5 633)"/>
<path d="M476.6 635.9 C476.5 636.2 476.2 637 476 637.5 C475.8 638 475.5 638.5 475.3 639 C475 639.5 474.7 640 474.4 640.4 C474.1 640.9 473.8 641.4 473.5 641.8 C473.2 642.2 472.8 642.7 472.5 643.1 C472.1 643.5 471.7 643.9 471.4 644.2 C471 644.6 470.6 645 470.2 645.3 C469.8 645.6 469.4 645.9 469 646.2 C468.5 646.5 468.1 646.7 467.7 647 C467.3 647.2 466.8 647.4 466.4 647.6 C466 647.7 465.5 647.9 465.1 648 C464.7 648.1 464.2 648.2 463.8 648.3 C463.4 648.4 463 648.4 462.5 648.4 C462.1 648.4 461.7 648.4 461.3 648.4 C460.9 648.3 460.5 648.3 460.1 648.2 C459.7 648.1 459.3 647.9 459 647.8 C458.6 647.6 458.2 647.4 457.9 647.2 C457.6 647 457.2 646.8 456.9 646.5 C456.6 646.3 456.3 646 456.1 645.7 C455.8 645.4 455.5 645 455.3 644.7 C455.1 644.3 454.8 643.9 454.6 643.6 C454.4 643.2 454.3 642.8 454.1 642.3 C454 641.9 453.8 641.5 453.7 641 C453.6 640.5 453.5 640.1 453.4 639.6 C453.4 639.1 453.3 638.6 453.3 638.1 C453.3 637.6 453.3 637.1 453.3 636.6 C453.4 636 453.4 635.5 453.5 635 C453.5 634.5 453.6 633.9 453.8 633.4 C453.9 632.9 454 632.3 454.2 631.8 C454.3 631.3 454.5 630.7 454.7 630.2 C454.9 629.7 455.2 629.2 455.4 628.7 C455.6 628.2 455.9 627.7 456.2 627.2 C456.5 626.7 456.8 626.3 457.1 625.8 C457.4 625.4 457.7 624.9 458.1 624.5 C458.4 624.1 458.8 623.7 459.1 623.3 C459.5 622.9 460.1 622.4 460.3 622.2"/>
<ellipse cx="463" cy="659" rx="4.6" ry="4.6" transform="rotate(0 463 659)"/>
<path d="M462.8 656.6 C462.9 656.5 463 656.4 463.1 656.4 C463.2 656.3 463.3 656.3 463.4 656.3 C463.6 656.2 463.7 656.2 463.8 656.2 C463.9 656.1 464 656.1 464.1 656.1 C464.3 656.1 464.4 656.1 464.5 656.1 C464.6 656.1 464.7 656.1 464.9 656.1 C465 656.1 465.1 656.1 465.2 656.2 C465.3 656.2 465.4 656.2 465.6 656.3 C465.7 656.3 465.8 656.3 465.9 656.4 C466 656.4 466.1 656.5 466.2 656.6 C466.3 656.6 466.4 656.7 466.5 656.7 C466.6 656.8 466.7 656.9 466.8 657 C466.9 657.1 466.9 657.1 467 657.2 C467.1 657.3 467.2 657.4 467.3 657.5 C467.3 657.6 467.4 657.7 467.4 657.8 C467.5 657.9 467.6 658 467.6 658.1 C467.7 658.2 467.7 658.3 467.7 658.4 C467.8 658.6 467.8 658.7 467.8 658.8 C467.9 658.9 467.9 659 467.9 659.1 C467.9 659.3 467.9 659.4 467.9 659.5 C467.9 659.6 467.9 659.7 467.9 659.9 C467.9 660 467.9 660.1 467.8 660.2 C467.8 660.3 467.8 660.4 467.7 660.6 C467.7 660.7 467.7 660.8 467.6 660.9 C467.6 661 467.5 661.1 467.4 661.2 C467.4 661.3 467.3 661.4 467.3 661.5 C467.2 661.6 467.1 661.7 467 661.8 C466.9 661.9 466.9 661.9 466.8 662 C466.7 662.1 466.6 662.2 466.5 662.3 C466.4 662.3 466.3 662.4 466.2 662.4 C466.1 662.5 466 662.6 465.9 662.6 C465.8 662.7 465.7 662.7 465.6 662.7 C465.4 662.8 465.3 662.8 465.2 662.8 C465.1 662.9 465 662.9 464.9 662.9 C464.7 662.9 464.6 662.9 464.5 662.9 C464.4 662.9 464.3 662.9 464.1 662.9 C464 662.9 463.9 662.9 463.8 662.8 C463.7 662.8 463.6 662.8 463.4 662.7 C463.3 662.7 463.2 662.7 463.1 662.6 C463 662.6 462.9 662.5 462.8 662.4"/>
<path d="M478 619.6 L492.4 623.6 L490.8 631.6 L486 632.4 L477.2 631.6"/>
<path d="M479.6 625.2 L485.2 627.6 L479.6 630"/>
<path d="M473.2 613.2 L490.8 622.8"/>
<path d="M486 632 C485.2 634.3 483.6 641.5 481.2 646 C478.8 650.5 473.2 656.7 471.6 658.8"/>
<path d="M475.6 638.8 L482 645.2"/>
<path d="M445 651 L456 650 L454 665 L446 661"/>
<path d="M467 650 L473 659"/>
<path d="M475 598 L485 604"/>
<path d="M458.6 691 L460.6 696 L463.4 697.6 L466.2 695 L465 692.4"/>
<path d="M613 355.4 C614.2 352.7 617.2 346.1 620 339 C622.8 331.9 626.7 320.5 630 313 C633.3 305.5 635 300.3 640 294 C645 287.7 653.3 281.2 660 275.4 C666.7 269.6 674.7 262.6 680 259.4 C685.3 256.2 688.3 256.2 692 256 C695.7 255.8 699.1 256.2 702 258 C704.9 259.8 707.6 261.8 709.6 267 C711.6 272.2 712.6 280 714 289 C715.4 298 717.1 311 718 321 C718.9 331 719.4 340.3 719.4 349 C719.4 357.7 719.2 365.7 718 373 C716.8 380.3 715 387.2 712 393 C709 398.8 705.3 403.8 700 408 C694.7 412.2 687.3 415.2 680 418 C672.7 420.8 661.7 424.3 656 425 C650.3 425.7 649.3 424.3 646 422 C642.7 419.7 639.3 414.8 636 411 C632.7 407.2 628.9 402.2 626.4 399.4 C623.9 396.6 621.9 394.9 621 394"/>
<path d="M632.4 365 C632.6 361 631.7 349.7 633.6 341 C635.5 332.3 639.6 321 644 313 C648.4 305 654 299.3 660 293 C666 286.7 674.7 279.5 680 275 C685.3 270.5 688.7 268 692 266 C695.3 264 697.6 263.2 700 263 C702.4 262.8 705.3 264.7 706.4 265"/>
<path d="M713.6 373 C713 375.3 712.3 382.3 710 387 C707.7 391.7 705 397 700 401 C695 405 686.7 408.3 680 411 C673.3 413.7 665.3 416.4 660 417.4 C654.7 418.4 651.3 418.4 648 417 C644.7 415.6 642.7 412.3 640 409 C637.3 405.7 633 399 631.6 397"/>
<path d="M657 307 C658.8 305 663.2 299.3 668 295 C672.8 290.7 681.2 284.3 686 281 C690.8 277.7 694.5 275.3 697 275 C699.5 274.7 700.1 275.3 701 279 C701.9 282.7 702.5 288 702.4 297 C702.3 306 701.1 323 700.4 333 C699.7 343 697.9 349.7 698 357 C698.1 364.3 701 370.5 700.8 377 C700.6 383.5 700.5 391.6 697 396 C693.5 400.4 685.5 401.5 680 403.4 C674.5 405.3 667.3 407.5 664 407.4 C660.7 407.3 661.3 410.1 660.4 403 C659.5 395.9 659 381 658.4 365 C657.8 349 657.2 316.7 657 307"/>
<path d="M659.6 312 C661.3 309.7 665.3 302.8 670 298 C674.7 293.2 683.7 286.1 688 283.4 C692.3 280.7 693.9 280.2 695.6 281.8 C697.3 283.4 697.9 285.8 698 293 C698.1 300.2 697.3 316.3 696.4 325 C695.5 333.7 693.4 337.7 692.4 345 C691.4 352.3 691.1 362.3 690.4 369 C689.7 375.7 689.7 381.1 688 385 C686.3 388.9 684.2 390.3 680 392.6 C675.8 394.9 666.2 399.9 663 398.6 C659.8 397.3 661.5 393.9 660.8 385 C660.1 376.1 659.2 357.2 659 345 C658.8 332.8 659.5 317.5 659.6 312"/>
<path d="M688 284 C687.7 290.8 686 312.8 686 325 C686 337.2 687.3 349 688 357 C688.7 365 690 370.3 690.4 373"/>
<path d="M662.4 398 C662.8 397.3 662.1 395.5 665 394 C667.9 392.5 676.5 390.8 680 389 C683.5 387.2 685 384 686 383"/>
<path d="M710.4 296.6 L703 297.8 L703.6 310.6 L710.4 309.4"/>
<path d="M710.4 296.6 L711.2 309.4"/>
<path d="M712 322.6 L704 323.8 L704.6 336.6 L712 335.4"/>
<path d="M712 322.6 L712.8 335.4"/>
<path d="M712 344.6 L705.2 345.8 L705.8 357 L712 355.8"/>
<path d="M712 344.6 L712.8 355.8"/>
<path d="M712 367.4 L708 368.6 L708.6 377 L712 375.8"/>
<path d="M712 367.4 L712.8 375.8"/>
<path d="M702 273 C702.6 275 704.6 281 705.6 285 C706.6 289 707.6 295 708 297"/>
<path d="M700 271 C700.6 273 702.7 279 703.6 283 C704.5 287 705.3 293 705.6 295"/>
<path d="M649 319.4 C649.6 319.7 652 318.5 652.4 321.4 C652.8 324.3 653.3 333.3 651.4 336.6 C649.5 339.9 642.5 342.5 641.2 341.4 C639.9 340.3 642.3 333.7 643.6 330 C644.9 326.3 648.1 321.2 649 319.4 C649.9 317.6 648.4 319.1 649 319.4 Z"/>
<path d="M648.4 323.4 C647.7 324.7 645.3 328.8 644.4 331.4 C643.5 334 643.4 337.7 643.2 339"/>
<path d="M639.2 354.6 C641.3 353.5 649.7 344.9 652 348 C654.3 351.1 654.8 367.2 653.2 373 C651.6 378.8 644.6 383.7 642.4 383 C640.2 382.3 640.5 373.7 640 369 C639.5 364.3 639.3 357 639.2 354.6 C639.1 352.2 637.1 355.7 639.2 354.6 Z"/>
<path d="M640 360 C641.2 360.8 645.5 362.5 647 365 C648.5 367.5 648.7 373.3 649 375"/>
<path d="M642.4 357 C643.7 358 648.3 360.7 650 363 C651.7 365.3 652 369.7 652.4 371"/>
<path d="M646 353 L652 358"/>
<path d="M640.4 393.4 C642.2 392.5 649.5 385.9 651.2 388.2 C652.9 390.5 651.4 404.9 650.4 407.4 C649.4 409.9 646.7 405.3 645 403 C643.3 400.7 641.2 395 640.4 393.4 C639.6 391.8 638.6 394.3 640.4 393.4 Z"/>
<path d="M649.6 391 L648.4 405"/>
<path d="M612 356.2 C610.7 357.3 606.2 360.2 604 363 C601.8 365.8 600.1 370.3 599 373 C597.9 375.7 597.4 376.8 597.6 379 C597.8 381.2 598.6 384.3 600 386 C601.4 387.7 603.7 388.4 606 389.4 C608.3 390.4 610.6 391.9 614 392 C617.4 392.1 623.1 391.4 626.4 390 C629.7 388.6 632 386.2 633.6 383.4 C635.2 380.6 636 376.4 636 373 C636 369.6 635.4 365.7 633.6 363 C631.8 360.3 627.9 358.4 625 357 C622.1 355.6 618.2 354.7 616 354.6 C613.8 354.5 612.7 355.9 612 356.2 C611.3 356.5 613.3 355.1 612 356.2 Z" style="fill:#fff"/>
<path d="M614.8 354.8 C615.9 355.6 619.9 358.3 621.2 359.6 C622.5 360.9 622.5 362.3 622.8 362.8"/>
<path d="M630 374.8 C630.3 376 631.7 379.7 631.6 382 C631.5 384.3 629.6 387.3 629.2 388.4"/>
<path d="M609.2 380.4 C609.6 381.2 611.4 383.3 611.6 385.2 C611.8 387.1 610.6 390.5 610.4 391.6"/>
<ellipse cx="600.8" cy="381.4" rx="8.6" ry="4.6" transform="rotate(-75 600.8 381.4)" style="fill:#fff"/>
<ellipse cx="601.4" cy="384" rx="5.2" ry="3.2" transform="rotate(-75 601.4 384)"/>
<path d="M720 330.6 L751 335.4"/>
<text x="755" y="342.5" font-size="19.2" text-anchor="start">13</text>
<path d="M465 634 L525 669"/>
<path d="M463 659 L522 694"/>
<path d="M523.6 695.2 L524.4 695.8" stroke-width="1.6"/>
<path d="M530 699 L579 727"/>
<path d="M535 665.5 C533.8 666.2 529.6 667.9 528 670 C526.4 672.1 525.2 675.9 525.5 678 C525.8 680.1 529.2 681.7 530 682.4"/>
<path d="M540.2 668.5 C539 669.2 534.8 670.9 533.2 673 C531.6 675.1 530.4 678.9 530.7 681 C531 683.1 534.5 684.7 535.2 685.4"/>
<path d="M545.5 671.5 C544.3 672.2 540.1 673.9 538.5 676 C536.9 678.1 535.7 681.9 536 684 C536.3 686.1 539.8 687.7 540.5 688.4"/>
<path d="M530 682.4 L533 684.2"/>
<path d="M535.2 685.4 L538.4 687.2"/>
<ellipse cx="548" cy="682.2" rx="8.8" ry="5.6" transform="rotate(-66 548 682.2)" style="fill:#fff"/>
<ellipse cx="546.8" cy="682.6" rx="4.8" ry="1.6" transform="rotate(-66 546.8 682.6)"/>
<path d="M577 634 L553 675"/>
<text x="574" y="630" font-size="19.2" text-anchor="start">6</text>
<path d="M555.6 699.6 C556.3 699.4 557.8 698.3 560 698.4 C562.2 698.5 565.8 700.2 569 700 C572.2 699.8 575.8 698.6 579 697 C582.2 695.4 584.8 692.6 588 690.4 C591.2 688.2 595.9 684.5 598.4 683.6 C600.9 682.7 602.1 684.1 603 685 C603.9 685.9 604.7 687.8 604 689 C603.3 690.2 600.7 691.4 599 692.4 C597.3 693.4 595 693.4 594 695 C593 696.6 593.7 699.7 593 702 C592.3 704.3 591.5 706.9 590 709 C588.5 711.1 586.2 713.3 584 714.4 C581.8 715.5 578.8 716 577 715.6 C575.2 715.2 574 713.4 573 712 C572 710.6 572.2 707.7 571 707 C569.8 706.3 567.8 707.9 566 708 C564.2 708.1 561.8 708.3 560 707.6 C558.2 706.9 555.9 705.3 555.2 704 C554.5 702.7 555.5 700.3 555.6 699.6 C555.7 698.9 554.9 699.8 555.6 699.6 Z" style="fill:#fff"/>
<ellipse cx="582" cy="703" rx="5.6" ry="3.6" transform="rotate(-60 582 703)"/>
<ellipse cx="582.3" cy="703.2" rx="3.6" ry="2" transform="rotate(-60 582.3 703.2)"/>
<path d="M569 700 C569.2 700.6 569.7 702.4 570 703.6 C570.3 704.8 570.8 706.4 571 707"/>
<path d="M560 698.4 C560.1 699.2 560.6 701.5 560.6 703 C560.6 704.5 560.1 706.8 560 707.6"/>
<path d="M594 695 C594.3 694 595.3 690.9 596 689 C596.7 687.1 598 684.5 598.4 683.6"/>
<path d="M619 657 L600 684"/>
<text x="611.5" y="652" font-size="19.2" text-anchor="start">10</text>
<ellipse cx="585" cy="733" rx="10.4" ry="5.4" transform="rotate(-62 585 733)" style="fill:#fff"/>
<ellipse cx="587.8" cy="734.3" rx="10.4" ry="5.4" transform="rotate(-62 587.8 734.3)" style="fill:#fff"/>
<ellipse cx="590.6" cy="735.6" rx="10.4" ry="5.4" transform="rotate(-62 590.6 735.6)" style="fill:#fff"/>
<ellipse cx="591" cy="736" rx="7.4" ry="3.4" transform="rotate(-62 591 736)"/>
<path d="M580 724 C581.3 723.8 585.3 722.8 588 723 C590.7 723.2 593.2 723.9 596 725 C598.8 726.1 603.5 728.8 605 729.6"/>
<path d="M580 740 L548 779"/>
<text x="542.5" y="799.5" font-size="19.2" text-anchor="start">7</text>
<path d="M588.4 751 C588.7 750.7 587.4 749.5 590 749 C592.6 748.5 600.3 749.4 604 748 C607.7 746.6 608 742.7 612 740.4 C616 738.1 623.2 735.5 628 734.4 C632.8 733.3 638.3 733.4 641 734 C643.7 734.6 644.1 736.5 644.4 738 C644.7 739.5 644.4 740.9 643 743 C641.6 745.1 639.8 747.9 636 750.4 C632.2 752.9 625.3 756.2 620 758 C614.7 759.8 608.3 761 604 761 C599.7 761 596.6 759.7 594 758 C591.4 756.3 589.3 752.2 588.4 751 C587.5 749.8 588.1 751.3 588.4 751 Z" style="fill:#fff"/>
<path d="M604 748 C604.8 748.7 607.2 750 609 752 C610.8 754 614 758.7 615 760"/>
<path d="M619.5 753.6 C619.5 753.6 619.3 753.7 619.2 753.7 C619.1 753.8 619 753.8 618.9 753.9 C618.8 753.9 618.7 753.9 618.6 753.9 C618.5 754 618.4 754 618.3 754 C618.2 754 618.1 754 618 754 C617.9 754 617.8 754 617.7 754 C617.6 754 617.5 754 617.4 753.9 C617.3 753.9 617.2 753.9 617.1 753.8 C617 753.8 616.9 753.8 616.8 753.7 C616.7 753.7 616.6 753.6 616.5 753.6 C616.4 753.5 616.3 753.5 616.2 753.4 C616.1 753.3 616 753.3 616 753.2 C615.9 753.1 615.8 753.1 615.7 753 C615.7 752.9 615.6 752.8 615.6 752.7 C615.5 752.6 615.4 752.6 615.4 752.5 C615.3 752.4 615.3 752.3 615.2 752.2 C615.2 752.1 615.2 752 615.1 751.9 C615.1 751.8 615.1 751.7 615.1 751.6 C615 751.5 615 751.4 615 751.3 C615 751.2 615 751.1 615 751 C615 750.8 615 750.7 615 750.6 C615 750.5 615.1 750.4 615.1 750.3 C615.1 750.2 615.1 750.1 615.2 750 C615.2 749.9 615.2 749.8 615.3 749.7 C615.3 749.6 615.4 749.5 615.4 749.4 C615.5 749.4 615.5 749.3 615.6 749.2 C615.7 749.1 615.7 749 615.8 748.9 C615.9 748.9 616 748.8 616 748.7 C616.1 748.7 616.2 748.6 616.3 748.5 C616.4 748.5 616.5 748.4 616.6 748.4 C616.7 748.3 616.8 748.3 616.8 748.2 C616.9 748.2 617 748.2 617.1 748.1 C617.2 748.1 617.4 748.1 617.5 748 C617.6 748 617.7 748 617.8 748 C617.9 748 618 748 618.1 748 C618.2 748 618.3 748 618.4 748 C618.5 748 618.6 748.1 618.7 748.1 C618.8 748.1 618.9 748.1 619 748.2 C619.1 748.2 619.2 748.3 619.3 748.3 C619.4 748.3 619.5 748.4 619.6 748.5 C619.7 748.5 619.8 748.6 619.8 748.6 C619.9 748.7 620 748.8 620.1 748.8 C620.2 748.9 620.3 749 620.3 749.1"/>
<path d="M629.5 748.2 C629.5 748.2 629.3 748.3 629.2 748.3 C629.1 748.4 629 748.4 628.9 748.5 C628.8 748.5 628.7 748.5 628.6 748.5 C628.5 748.6 628.4 748.6 628.3 748.6 C628.2 748.6 628.1 748.6 628 748.6 C627.9 748.6 627.8 748.6 627.7 748.6 C627.6 748.6 627.5 748.6 627.4 748.5 C627.3 748.5 627.2 748.5 627.1 748.4 C627 748.4 626.9 748.4 626.8 748.3 C626.7 748.3 626.6 748.2 626.5 748.2 C626.4 748.1 626.3 748.1 626.2 748 C626.1 747.9 626 747.9 626 747.8 C625.9 747.7 625.8 747.7 625.7 747.6 C625.7 747.5 625.6 747.4 625.6 747.3 C625.5 747.2 625.4 747.2 625.4 747.1 C625.3 747 625.3 746.9 625.2 746.8 C625.2 746.7 625.2 746.6 625.1 746.5 C625.1 746.4 625.1 746.3 625.1 746.2 C625 746.1 625 746 625 745.9 C625 745.8 625 745.7 625 745.6 C625 745.4 625 745.3 625 745.2 C625 745.1 625.1 745 625.1 744.9 C625.1 744.8 625.1 744.7 625.2 744.6 C625.2 744.5 625.2 744.4 625.3 744.3 C625.3 744.2 625.4 744.1 625.4 744 C625.5 744 625.5 743.9 625.6 743.8 C625.7 743.7 625.7 743.6 625.8 743.5 C625.9 743.5 626 743.4 626 743.3 C626.1 743.3 626.2 743.2 626.3 743.1 C626.4 743.1 626.5 743 626.6 743 C626.7 742.9 626.8 742.9 626.8 742.8 C626.9 742.8 627 742.8 627.1 742.7 C627.2 742.7 627.4 742.7 627.5 742.6 C627.6 742.6 627.7 742.6 627.8 742.6 C627.9 742.6 628 742.6 628.1 742.6 C628.2 742.6 628.3 742.6 628.4 742.6 C628.5 742.6 628.6 742.7 628.7 742.7 C628.8 742.7 628.9 742.7 629 742.8 C629.1 742.8 629.2 742.9 629.3 742.9 C629.4 742.9 629.5 743 629.6 743.1 C629.7 743.1 629.8 743.2 629.8 743.2 C629.9 743.3 630 743.4 630.1 743.4 C630.2 743.5 630.3 743.6 630.3 743.7"/>
<path d="M609 761 L590 814"/>
<text x="582.5" y="832" font-size="19.2" text-anchor="start">4</text>
<ellipse cx="658" cy="750" rx="10.6" ry="8.2" transform="rotate(-62 658 750)"/>
<path d="M663.8 755.3 C663.7 755.4 663.3 755.9 663.1 756.2 C662.8 756.5 662.5 756.8 662.3 757 C662 757.3 661.7 757.5 661.4 757.8 C661.1 758 660.8 758.2 660.5 758.4 C660.2 758.6 659.9 758.8 659.6 759 C659.3 759.2 658.9 759.3 658.6 759.5 C658.3 759.6 658 759.7 657.6 759.8 C657.3 759.9 657 760 656.6 760 C656.3 760.1 656 760.1 655.7 760.1 C655.3 760.1 655 760.1 654.7 760.1 C654.4 760.1 654.1 760 653.8 759.9 C653.5 759.9 653.2 759.8 652.9 759.7 C652.6 759.6 652.3 759.5 652 759.3 C651.8 759.2 651.5 759 651.3 758.8 C651 758.6 650.8 758.4 650.5 758.2 C650.3 758 650.1 757.8 649.9 757.5 C649.7 757.3 649.5 757 649.3 756.7 C649.2 756.5 649 756.2 648.9 755.9 C648.7 755.6 648.6 755.3 648.5 754.9 C648.4 754.6 648.3 754.3 648.2 753.9 C648.2 753.6 648.1 753.2 648.1 752.9 C648 752.5 648 752.2 648 751.8 C648 751.4 648 751.1 648.1 750.7 C648.1 750.3 648.1 749.9 648.2 749.6 C648.3 749.2 648.4 748.8 648.5 748.4 C648.6 748.1 648.8 747.5 648.8 747.3"/>
<ellipse cx="658.5" cy="750.2" rx="6" ry="3.4" transform="rotate(-62 658.5 750.2)"/>
<path d="M691.6 682 L663 741"/>
<text x="683" y="677" font-size="19.2" text-anchor="start">11</text>
<ellipse cx="692.5" cy="770.5" rx="40.6" ry="25" transform="rotate(-60.8 692.5 770.5)" stroke-width="1.3"/>
<path d="M705.5 794.1 C705 794.6 703.6 796.1 702.7 797 C701.7 798 700.7 798.8 699.7 799.7 C698.7 800.5 697.7 801.3 696.7 802 C695.6 802.7 694.6 803.4 693.6 804 C692.5 804.6 691.5 805.1 690.4 805.6 C689.4 806.1 688.3 806.5 687.3 806.8 C686.3 807.1 685.3 807.4 684.2 807.6 C683.2 807.8 682.2 808 681.3 808 C680.3 808.1 679.3 808.1 678.4 808 C677.4 807.9 676.5 807.8 675.7 807.6 C674.8 807.4 673.9 807.1 673.1 806.8 C672.3 806.4 671.5 806 670.7 805.5 C670 805.1 669.3 804.5 668.6 803.9 C667.9 803.3 667.3 802.6 666.7 801.9 C666.1 801.2 665.6 800.4 665.1 799.6 C664.6 798.8 664.2 797.9 663.8 796.9 C663.4 796 663.1 795 662.8 794 C662.5 793 662.3 791.9 662.1 790.8 C661.9 789.7 661.8 788.5 661.7 787.3 C661.6 786.2 661.6 784.9 661.7 783.7 C661.7 782.5 661.8 781.2 661.9 779.9 C662.1 778.7 662.3 777.4 662.5 776.1 C662.8 774.8 663.1 773.4 663.4 772.1 C663.8 770.8 664.2 769.5 664.7 768.2 C665.1 766.8 665.9 764.9 666.2 764.2"/>
<path d="M714.3 765.7 C714.2 766.2 713.9 767.6 713.7 768.5 C713.5 769.4 713.2 770.4 712.9 771.3 C712.6 772.2 712.3 773.2 711.9 774.1 C711.5 775 711.1 775.9 710.7 776.8 C710.2 777.8 709.8 778.7 709.3 779.5 C708.8 780.4 708.3 781.3 707.7 782.1 C707.2 783 706.6 783.8 706 784.6 C705.4 785.4 704.8 786.2 704.2 786.9 C703.5 787.7 702.9 788.4 702.2 789.1 C701.5 789.8 700.8 790.4 700.2 791.1 C699.5 791.7 698.8 792.2 698 792.8 C697.3 793.3 696.6 793.8 695.9 794.3 C695.2 794.7 694.4 795.2 693.7 795.5 C693 795.9 692.3 796.2 691.5 796.5 C690.8 796.8 690.1 797 689.4 797.2 C688.7 797.4 688 797.5 687.3 797.6 C686.6 797.7 685.9 797.7 685.3 797.7 C684.6 797.7 684 797.6 683.3 797.5 C682.7 797.4 682.1 797.3 681.5 797.1 C680.9 796.9 680.4 796.6 679.9 796.3 C679.3 796 678.8 795.7 678.3 795.3 C677.9 794.9 677.4 794.5 677 794 C676.6 793.5 676.2 793 675.8 792.4 C675.5 791.9 675.1 791.3 674.9 790.7 C674.6 790 674.3 789.4 674.1 788.7 C673.9 788 673.7 787.2 673.6 786.5 C673.4 785.7 673.3 784.9 673.3 784.1 C673.2 783.3 673.2 782.4 673.2 781.6 C673.2 780.7 673.2 779.9 673.3 779 C673.4 778.1 673.5 777.2 673.7 776.3 C673.9 775.4 674.1 774.4 674.3 773.5 C674.5 772.6 674.8 771.6 675.1 770.7 C675.4 769.8 675.7 768.8 676.1 767.9 C676.5 767 676.9 766.1 677.3 765.2 C677.8 764.2 678.2 763.3 678.7 762.5 C679.2 761.6 679.7 760.7 680.3 759.9 C680.8 759 681.4 758.2 682 757.4 C682.6 756.6 683.2 755.8 683.8 755.1 C684.5 754.3 685.1 753.6 685.8 752.9 C686.5 752.2 687.2 751.6 687.8 750.9 C688.5 750.3 689.2 749.8 690 749.2 C690.7 748.7 691.4 748.2 692.1 747.7 C692.8 747.3 693.6 746.8 694.3 746.5 C695 746.1 695.7 745.8 696.5 745.5 C697.2 745.2 698.3 744.9 698.6 744.8"/>
<path d="M705.3 776.8 C705.2 777.2 704.6 778.2 704.2 778.8 C703.8 779.5 703.3 780.1 702.9 780.7 C702.4 781.3 702 781.9 701.5 782.5 C701 783 700.5 783.6 700 784.1 C699.5 784.6 699 785.1 698.5 785.6 C697.9 786.1 697.4 786.5 696.9 786.9 C696.3 787.3 695.8 787.7 695.3 788.1 C694.7 788.4 694.2 788.7 693.6 789 C693.1 789.3 692.5 789.5 692 789.8 C691.4 790 690.9 790.2 690.4 790.3 C689.8 790.4 689.3 790.6 688.8 790.6 C688.3 790.7 687.8 790.7 687.3 790.7 C686.8 790.7 686.3 790.7 685.9 790.6 C685.4 790.5 684.9 790.4 684.5 790.3 C684.1 790.1 683.7 789.9 683.3 789.7 C682.9 789.5 682.5 789.2 682.1 788.9 C681.8 788.6 681.5 788.3 681.1 788 C680.8 787.6 680.5 787.2 680.3 786.8 C680 786.4 679.8 785.9 679.6 785.5 C679.4 785 679.2 784.5 679 784 C678.9 783.4 678.7 782.9 678.6 782.3 C678.5 781.7 678.5 781.1 678.4 780.5 C678.4 779.9 678.4 779.3 678.4 778.6 C678.4 778 678.4 777.3 678.5 776.7 C678.6 776 678.7 775.3 678.8 774.6 C678.9 773.9 679.1 773.2 679.3 772.5 C679.4 771.8 679.7 771.1 679.9 770.4 C680.1 769.7 680.4 769 680.7 768.3 C681 767.6 681.3 766.9 681.6 766.2 C681.9 765.5 682.3 764.8 682.7 764.2 C683 763.5 683.4 762.8 683.8 762.2 C684.2 761.5 684.7 760.9 685.1 760.3 C685.6 759.7 686 759.1 686.5 758.5 C687 758 687.5 757.4 688 756.9 C688.5 756.4 689 755.9 689.5 755.4 C690.1 754.9 690.6 754.5 691.1 754.1 C691.7 753.7 692.2 753.3 692.7 752.9 C693.3 752.6 693.8 752.3 694.4 752 C694.9 751.7 695.5 751.5 696 751.2 C696.6 751 697.1 750.8 697.6 750.7 C698.2 750.6 698.7 750.4 699.2 750.4 C699.7 750.3 700.2 750.3 700.7 750.3 C701.2 750.3 701.7 750.3 702.1 750.4 C702.6 750.5 703.1 750.6 703.5 750.7 C703.9 750.9 704.3 751.1 704.7 751.3 C705.1 751.5 705.5 751.8 705.9 752.1 C706.2 752.4 706.5 752.7 706.9 753 C707.2 753.4 707.5 753.8 707.7 754.2 C708 754.6 708.2 755.1 708.4 755.5 C708.6 756 708.8 756.5 709 757 C709.1 757.6 709.3 758.1 709.4 758.7 C709.5 759.3 709.5 759.9 709.6 760.5 C709.6 761.1 709.6 761.7 709.6 762.4 C709.6 763 709.6 763.7 709.5 764.3 C709.4 765 709.2 766 709.2 766.4"/>
<ellipse cx="693" cy="770" rx="12.5" ry="8" transform="rotate(-60.8 693 770)"/>
<ellipse cx="690" cy="770" rx="6" ry="3.4" transform="rotate(-60.8 690 770)"/>
<path d="M694.9 772.7 C694.9 772.8 694.7 773.1 694.5 773.4 C694.4 773.6 694.2 773.8 694.1 774 C693.9 774.2 693.8 774.4 693.6 774.6 C693.4 774.8 693.3 775 693.1 775.2 C692.9 775.3 692.8 775.5 692.6 775.7 C692.4 775.8 692.2 776 692 776.1 C691.8 776.3 691.7 776.4 691.5 776.5 C691.3 776.6 691.1 776.7 690.9 776.8 C690.7 776.9 690.5 777 690.3 777.1 C690.2 777.2 690 777.2 689.8 777.3 C689.6 777.3 689.4 777.4 689.3 777.4 C689.1 777.4 688.9 777.4 688.7 777.4 C688.6 777.4 688.4 777.4 688.2 777.4 C688.1 777.3 687.9 777.3 687.8 777.2 C687.6 777.2 687.5 777.1 687.3 777 C687.2 777 687.1 776.9 687 776.8 C686.8 776.7 686.7 776.6 686.6 776.4 C686.5 776.3 686.4 776.2 686.3 776 C686.2 775.9 686.1 775.8 686.1 775.6 C686 775.4 685.9 775.3 685.9 775.1 C685.8 774.9 685.8 774.7 685.7 774.5 C685.7 774.3 685.7 774.1 685.7 773.9 C685.6 773.7 685.6 773.5 685.6 773.2 C685.6 773 685.6 772.8 685.7 772.6 C685.7 772.3 685.7 772.1 685.8 771.9 C685.8 771.6 685.9 771.4 685.9 771.2 C686 770.9 686.1 770.7 686.1 770.4 C686.2 770.2 686.3 770 686.4 769.7 C686.5 769.5 686.6 769.2 686.7 769 C686.8 768.8 687 768.4 687.1 768.3"/>
<path d="M746 681 L713 735"/>
<text x="744.5" y="675" font-size="19.2" text-anchor="start">8</text>
<path d="M732.5 780.5 C731.8 780.7 729.6 780.5 728 781.5 C726.4 782.5 724.3 784.2 723 786.5 C721.7 788.8 720.4 792.7 720.2 795 C720.1 797.3 720.5 799.6 722 800.5 C723.5 801.4 727.8 800.6 729 800.6" stroke-width="1.4"/>
<path d="M732.5 783.5 C731.7 784 728.8 785.1 727.5 786.5 C726.2 787.9 724.9 790.1 724.5 792 C724.1 793.9 724.7 796.7 725 798 C725.3 799.3 726.2 799.7 726.5 800"/>
<path d="M732.5 780.5 C732.9 780.7 733.6 780.2 735 781.5 C736.4 782.8 739.7 786.8 741 788.5 C742.3 790.2 742.4 790.4 742.6 791.5 C742.8 792.6 742.6 793.8 742 795.2 C741.4 796.7 740.3 798.6 739 800 C737.7 801.4 735.3 802.9 734 803.4 C732.7 803.9 731.7 803.4 731 803 C730.3 802.6 729.8 801.3 729.6 801" stroke-width="1.3"/>
<path d="M740 788.5 C739.2 787.9 736.3 785.6 735 785 C733.7 784.4 732.8 784.7 732 785 C731.2 785.3 730.3 786.7 730 787"/>
<path d="M730 794 L730 801.5" stroke-width="1.5"/>
<path d="M738.6 791.6 C738.1 791.7 736.4 791.4 735.5 792 C734.6 792.6 733.8 793.9 733.5 795 C733.2 796.1 733.2 797.8 733.5 798.5 C733.8 799.2 734.8 798.9 735 799"/>
<path d="M730 787 L733.5 790"/>
<path d="M796 728 L741 789"/>
<text x="793.5" y="721" font-size="19.2" text-anchor="start">9</text>
<path d="M746 802 L789 827"/>
<path d="M796.5 831.3 L797.5 831.9" stroke-width="1.6"/>
<path d="M802 835 L888.8 884.8 L593 1051 L639 1079"/>
<path d="M356.7 269 C354.9 269.4 348.5 270.6 345.9 271.5 C343.4 272.3 342.8 272.6 341.5 273.9 C340.2 275.1 338.8 277 338 278.9 C337.1 280.7 336.5 283.1 336.4 285.1 C336.2 287 336.5 289.2 337.1 290.8 C337.6 292.4 337.5 294.2 339.9 294.6 C342.2 294.9 349.4 293.3 351.3 293"/>
<ellipse cx="354" cy="281" rx="12.4" ry="8.2" transform="rotate(-72 354 281)" style="fill:#fff"/>
<path d="M356.7 277.9 C356.7 278 356.8 278.1 356.9 278.3 C357 278.4 357 278.5 357.1 278.7 C357.1 278.8 357.2 278.9 357.2 279.1 C357.3 279.2 357.3 279.4 357.3 279.5 C357.4 279.7 357.4 279.8 357.4 280 C357.4 280.2 357.4 280.3 357.4 280.5 C357.4 280.6 357.4 280.8 357.4 281 C357.4 281.1 357.4 281.3 357.4 281.5 C357.3 281.6 357.3 281.8 357.3 282 C357.2 282.1 357.2 282.3 357.1 282.4 C357.1 282.6 357 282.8 356.9 282.9 C356.9 283.1 356.8 283.2 356.7 283.4 C356.6 283.5 356.6 283.7 356.5 283.8 C356.4 283.9 356.3 284.1 356.2 284.2 C356.1 284.3 356 284.5 355.9 284.6 C355.8 284.7 355.7 284.8 355.6 284.9 C355.4 285 355.3 285.1 355.2 285.2 C355.1 285.3 355 285.4 354.8 285.5 C354.7 285.5 354.6 285.6 354.5 285.7 C354.3 285.7 354.2 285.8 354.1 285.8 C353.9 285.9 353.8 285.9 353.7 285.9 C353.5 286 353.4 286 353.3 286 C353.2 286 353 286 352.9 286 C352.8 286 352.6 286 352.5 285.9 C352.4 285.9 352.3 285.9 352.2 285.8 C352 285.8 351.9 285.8 351.8 285.7 C351.7 285.6 351.6 285.6 351.5 285.5 C351.4 285.4 351.3 285.3 351.2 285.2 C351.1 285.2 351 285.1 350.9 285 C350.8 284.9 350.7 284.7 350.7 284.6 C350.6 284.5 350.5 284.4 350.4 284.3 C350.4 284.1 350.3 284 350.3 283.9 C350.2 283.7 350.2 283.6 350.1 283.4 C350.1 283.3 350.1 283.1 350 283 C350 282.8 350 282.7 350 282.5 C350 282.3 350 282.2 350 282 C350 281.9 350 281.7 350 281.5 C350 281.4 350 281.2 350.1 281 C350.1 280.9 350.1 280.7 350.2 280.5 C350.2 280.4 350.3 280.2 350.3 280.1 C350.4 279.9 350.4 279.7 350.5 279.6 C350.6 279.4 350.6 279.3 350.7 279.1 C350.8 279 350.9 278.8 351 278.7 C351.1 278.6 351.2 278.4 351.3 278.3 C351.4 278.2 351.5 278.1 351.6 277.9 C351.7 277.8 351.8 277.7 351.9 277.6 C352 277.5 352.1 277.4 352.3 277.3 C352.4 277.2 352.6 277.1 352.6 277.1"/>
<path d="M347.2 289.5 C347.2 289.4 346.9 289.1 346.8 288.9 C346.7 288.7 346.6 288.5 346.5 288.3 C346.4 288.1 346.3 287.8 346.2 287.6 C346.1 287.3 346 287.1 346 286.8 C345.9 286.5 345.9 286.2 345.8 285.9 C345.8 285.7 345.7 285.4 345.7 285 C345.7 284.7 345.7 284.4 345.7 284.1 C345.7 283.8 345.8 283.5 345.8 283.1 C345.8 282.8 345.9 282.5 345.9 282.2 C346 281.8 346 281.5 346.1 281.2 C346.2 280.8 346.3 280.5 346.4 280.2 C346.5 279.8 346.6 279.5 346.7 279.2 C346.8 278.9 347 278.6 347.1 278.3 C347.2 277.9 347.4 277.6 347.5 277.4 C347.7 277.1 347.9 276.8 348 276.5 C348.2 276.2 348.4 276 348.6 275.7 C348.8 275.4 348.9 275.2 349.1 275 C349.3 274.7 349.5 274.5 349.7 274.3 C350 274.1 350.2 273.9 350.4 273.8 C350.6 273.6 350.8 273.4 351 273.3 C351.2 273.1 351.6 273 351.7 272.9"/>
<path d="M368.2 245.8 L355.5 269"/>
<text x="361.5" y="240" font-size="19.2" text-anchor="start">17</text>
<path d="M225.7 418 C223.9 418.4 217.5 419.6 214.9 420.5 C212.4 421.3 211.8 421.6 210.5 422.9 C209.2 424.1 207.8 426 207 427.9 C206.1 429.7 205.5 432.1 205.4 434.1 C205.2 436 205.5 438.2 206.1 439.8 C206.6 441.4 206.5 443.2 208.9 443.6 C211.2 443.9 218.4 442.3 220.3 442"/>
<ellipse cx="223" cy="430" rx="12.4" ry="8.2" transform="rotate(-72 223 430)" style="fill:#fff"/>
<path d="M225.7 426.9 C225.7 427 225.8 427.1 225.9 427.3 C226 427.4 226 427.5 226.1 427.7 C226.1 427.8 226.2 427.9 226.2 428.1 C226.3 428.2 226.3 428.4 226.3 428.5 C226.4 428.7 226.4 428.8 226.4 429 C226.4 429.2 226.4 429.3 226.4 429.5 C226.4 429.6 226.4 429.8 226.4 430 C226.4 430.1 226.4 430.3 226.4 430.5 C226.3 430.6 226.3 430.8 226.3 431 C226.2 431.1 226.2 431.3 226.1 431.4 C226.1 431.6 226 431.8 225.9 431.9 C225.9 432.1 225.8 432.2 225.7 432.4 C225.6 432.5 225.6 432.7 225.5 432.8 C225.4 432.9 225.3 433.1 225.2 433.2 C225.1 433.3 225 433.5 224.9 433.6 C224.8 433.7 224.7 433.8 224.6 433.9 C224.4 434 224.3 434.1 224.2 434.2 C224.1 434.3 224 434.4 223.8 434.5 C223.7 434.5 223.6 434.6 223.5 434.7 C223.3 434.7 223.2 434.8 223.1 434.8 C222.9 434.9 222.8 434.9 222.7 434.9 C222.5 435 222.4 435 222.3 435 C222.2 435 222 435 221.9 435 C221.8 435 221.6 435 221.5 434.9 C221.4 434.9 221.3 434.9 221.2 434.8 C221 434.8 220.9 434.8 220.8 434.7 C220.7 434.6 220.6 434.6 220.5 434.5 C220.4 434.4 220.3 434.3 220.2 434.2 C220.1 434.2 220 434.1 219.9 434 C219.8 433.9 219.7 433.7 219.7 433.6 C219.6 433.5 219.5 433.4 219.4 433.3 C219.4 433.1 219.3 433 219.3 432.9 C219.2 432.7 219.2 432.6 219.1 432.4 C219.1 432.3 219.1 432.1 219 432 C219 431.8 219 431.7 219 431.5 C219 431.3 219 431.2 219 431 C219 430.9 219 430.7 219 430.5 C219 430.4 219 430.2 219.1 430 C219.1 429.9 219.1 429.7 219.2 429.5 C219.2 429.4 219.3 429.2 219.3 429.1 C219.4 428.9 219.4 428.7 219.5 428.6 C219.6 428.4 219.6 428.3 219.7 428.1 C219.8 428 219.9 427.8 220 427.7 C220.1 427.6 220.2 427.4 220.3 427.3 C220.4 427.2 220.5 427.1 220.6 426.9 C220.7 426.8 220.8 426.7 220.9 426.6 C221 426.5 221.1 426.4 221.3 426.3 C221.4 426.2 221.6 426.1 221.6 426.1"/>
<path d="M216.2 438.5 C216.2 438.4 215.9 438.1 215.8 437.9 C215.7 437.7 215.6 437.5 215.5 437.3 C215.4 437.1 215.3 436.8 215.2 436.6 C215.1 436.3 215 436.1 215 435.8 C214.9 435.5 214.9 435.2 214.8 434.9 C214.8 434.7 214.7 434.4 214.7 434 C214.7 433.7 214.7 433.4 214.7 433.1 C214.7 432.8 214.8 432.5 214.8 432.1 C214.8 431.8 214.9 431.5 214.9 431.2 C215 430.8 215 430.5 215.1 430.2 C215.2 429.8 215.3 429.5 215.4 429.2 C215.5 428.8 215.6 428.5 215.7 428.2 C215.8 427.9 216 427.6 216.1 427.3 C216.2 426.9 216.4 426.6 216.5 426.4 C216.7 426.1 216.9 425.8 217 425.5 C217.2 425.2 217.4 425 217.6 424.7 C217.8 424.4 217.9 424.2 218.1 424 C218.3 423.7 218.5 423.5 218.7 423.3 C219 423.1 219.2 422.9 219.4 422.8 C219.6 422.6 219.8 422.4 220 422.3 C220.2 422.1 220.6 422 220.7 421.9"/>
<path d="M237.6 393.4 L224 418.2"/>
<text x="231.5" y="388" font-size="19.2" text-anchor="start">17</text>
<path d="M235.2 437.4 L260 451.8"/>
<path d="M387.7 296 C386.6 295.1 382.9 291.5 381 290.7 C379.1 289.9 377.8 290.4 376.5 291.2 C375.2 291.9 373.8 293.7 373.2 295.2 C372.6 296.8 372.4 298.9 372.7 300.5 C373 302.1 373.1 303.3 375 304.7 C376.9 306.1 382.5 308.1 384 308.7"/>
<ellipse cx="392.5" cy="305.5" rx="10.4" ry="7.6" transform="rotate(-70 392.5 305.5)" style="fill:#fff"/>
<ellipse cx="393" cy="306" rx="8.6" ry="6.2" transform="rotate(-70 393 306)"/>
<path d="M396.2 303.9 C396.2 303.9 396.3 304.1 396.3 304.2 C396.3 304.3 396.4 304.4 396.4 304.6 C396.4 304.7 396.4 304.8 396.4 304.9 C396.4 305.1 396.4 305.2 396.4 305.3 C396.4 305.4 396.4 305.6 396.4 305.7 C396.4 305.8 396.4 306 396.4 306.1 C396.3 306.2 396.3 306.4 396.3 306.5 C396.2 306.6 396.2 306.7 396.2 306.9 C396.1 307 396.1 307.1 396 307.3 C396 307.4 395.9 307.5 395.8 307.6 C395.8 307.7 395.7 307.8 395.6 308 C395.6 308.1 395.5 308.2 395.4 308.3 C395.3 308.4 395.3 308.5 395.2 308.6 C395.1 308.7 395 308.8 394.9 308.8 C394.8 308.9 394.7 309 394.6 309.1 C394.5 309.1 394.4 309.2 394.3 309.3 C394.2 309.3 394.1 309.4 394 309.4 C393.9 309.5 393.8 309.5 393.7 309.6 C393.6 309.6 393.5 309.6 393.4 309.6 C393.3 309.7 393.2 309.7 393.1 309.7 C393 309.7 392.9 309.7 392.8 309.7 C392.7 309.7 392.6 309.7 392.5 309.7 C392.4 309.6 392.3 309.6 392.2 309.6 C392.1 309.5 392 309.5 391.9 309.4 C391.8 309.4 391.8 309.3 391.7 309.3 C391.6 309.2 391.5 309.2 391.4 309.1 C391.4 309 391.3 308.9 391.2 308.9 C391.2 308.8 391.1 308.7 391 308.6 C391 308.5 390.9 308.4 390.9 308.3 C390.8 308.2 390.8 308.1 390.8 308 C390.7 307.9 390.7 307.8 390.7 307.6 C390.6 307.5 390.6 307.4 390.6 307.3 C390.6 307.2 390.6 307 390.6 306.9 C390.6 306.8 390.6 306.6 390.6 306.5 C390.6 306.4 390.6 306.3 390.6 306.1 C390.6 306 390.6 305.9 390.7 305.7 C390.7 305.6 390.7 305.5 390.8 305.3 C390.8 305.2 390.9 305.1 390.9 305 C390.9 304.8 391 304.7 391.1 304.6 C391.1 304.5 391.2 304.4 391.2 304.2 C391.3 304.1 391.4 304 391.5 303.9 C391.5 303.8 391.6 303.7 391.7 303.6 C391.8 303.5 391.9 303.4 391.9 303.3 C392 303.2 392.1 303.1 392.2 303.1 C392.3 303 392.4 302.9 392.5 302.8 C392.6 302.8 392.8 302.7 392.8 302.6"/>
<path d="M402.8 275.8 L388.5 295.2"/>
<text x="397" y="270" font-size="19.2" text-anchor="start">16</text>
<path d="M164.8 386.4 C164 385.8 161.3 383.4 160 383.1 C158.7 382.7 158.2 383.3 157 384.3 C155.8 385.2 153.8 387.3 152.8 388.8 C151.8 390.2 151.2 391.5 151 393 C150.7 394.4 150.5 396.2 151.3 397.5 C152 398.7 154.8 400 155.5 400.5" stroke-width="1.3"/>
<path d="M158.8 387.3 L164.2 389.4 L157.9 394.8 L156.1 395.7"/>
<path d="M157.9 394.8 L157.3 403.2"/>
<ellipse cx="165.8" cy="396.6" rx="11.3" ry="8.6" transform="rotate(-70 165.8 396.6)" stroke-width="1.3" style="fill:#fff"/>
<path d="M167.5 393 L196 409.8 L197.8 413 L196.6 416.6 L193 417.6 L164.2 400.2 Z" style="fill:#fff;stroke:none"/>
<path d="M169.6 403.2 C168.9 402.9 166.3 402.2 165.4 401.4 C164.5 400.6 164.3 399.4 164.2 398.4 C164.1 397.4 164.2 396.3 164.8 395.4 C165.3 394.5 167 393.4 167.5 393"/>
<path d="M167.5 393 L196 409.8"/>
<path d="M169.6 403.2 L191.8 417.3"/>
<path d="M196 409.8 C196.3 410.3 197.7 411.7 197.8 412.8 C197.9 413.9 197.4 415.6 196.6 416.4 C195.8 417.2 193.8 417.6 193 417.7 C192.2 417.9 192 417.4 191.8 417.3" stroke-width="1.3"/>
<path d="M177.7 399.9 L174.4 405"/>
<path d="M180.9 401.9 L178 407.4"/>
<path d="M184 403.8 L181.5 410.1"/>
<path d="M187.4 405.9 L184.7 411.7"/>
<path d="M190.7 408.1 L188.4 413.7"/>
<path d="M192 366.2 L180 399.5"/>
<text x="183" y="362" font-size="19.2" text-anchor="start">18</text>
<path d="M684 1054 C685.7 1053.8 690 1052.3 694 1053 C698 1053.7 703.7 1056.2 708 1058 C712.3 1059.8 716.3 1061.5 720 1064 C723.7 1066.5 727.5 1069 730 1073 C732.5 1077 734.2 1082.8 735 1088 C735.8 1093.2 734.5 1100 735 1104 C735.5 1108 738 1109 738 1112 C738 1115 737 1118.7 735 1122 C733 1125.3 729.2 1128.7 726 1132 C722.8 1135.3 719.7 1138.3 716 1142 C712.3 1145.7 708.7 1150.7 704 1154 C699.3 1157.3 693.7 1160.2 688 1162 C682.3 1163.8 674.3 1164.8 670 1165 C665.7 1165.2 663.3 1163.3 662 1163"/>
<path d="M662 1163 L648 1154 L645 1142 L644 1128 L637 1124"/>
<path d="M637 1124 C637.2 1121 636.8 1111.7 638 1106 C639.2 1100.3 642 1094.7 644 1090 C646 1085.3 647.5 1081.5 650 1078 C652.5 1074.5 657.5 1070.5 659 1069"/>
<path d="M659 1069 L668 1073 L678 1062 L684 1054"/>
<path d="M660 1125 C660.3 1123.2 660.7 1118.2 662 1114 C663.3 1109.8 665.3 1104.7 668 1100 C670.7 1095.3 674.5 1090.4 678 1086 C681.5 1081.6 685.8 1076.8 689 1073.6 C692.2 1070.4 694 1068.8 697 1067 C700 1065.2 703.5 1062.6 707 1062.6 C710.5 1062.6 714.7 1064.6 718 1067 C721.3 1069.4 724.7 1072.8 727 1077 C729.3 1081.2 730.8 1087.3 731.6 1092 C732.4 1096.7 731.4 1101.7 732 1105 C732.6 1108.3 734.9 1109.3 735 1112 C735.1 1114.7 734.2 1117.8 732.4 1121 C730.6 1124.2 727.4 1127.2 724 1131 C720.6 1134.8 716.3 1140 712 1144 C707.7 1148 702.7 1152.2 698 1155 C693.3 1157.8 688.7 1159.6 684 1161 C679.3 1162.4 673.7 1163.4 670 1163.6 C666.3 1163.8 663.3 1162.3 662 1162"/>
<path d="M660 1125 L661 1150 L662 1163"/>
<path d="M648 1143 L661 1150"/>
<path d="M678 1067 L689 1074 L674 1092"/>
<path d="M708 1058 C708.7 1058.7 710.3 1060.5 712 1062 C713.7 1063.5 717 1066.2 718 1067"/>
<path d="M700 1056 C700.7 1056.7 702.7 1058.9 704 1060 C705.3 1061.1 707.3 1062.2 708 1062.6"/>
<path d="M674 1139 C673.6 1136.5 671.3 1129.2 671.6 1124 C671.9 1118.8 673.6 1113 676 1108 C678.4 1103 683.1 1097.3 686 1094 C688.9 1090.7 692.3 1089.3 693.6 1088.4"/>
<path d="M693.6 1088.4 L700 1090 L708 1082"/>
<path d="M708 1082 C708.8 1081.7 711.3 1080.2 713 1080.4 C714.7 1080.6 716.9 1081.4 718.4 1083 C719.9 1084.6 721.7 1086.8 722 1090 C722.3 1093.2 720.7 1098.7 720 1102 C719.3 1105.3 718.3 1108.7 718 1110"/>
<path d="M718 1110 L710 1122 L704 1130 L698 1128 L692 1132 L684 1134 L680 1142 L674 1139"/>
<path d="M680 1142 C680.7 1143 681.3 1147.3 684 1148 C686.7 1148.7 692 1148 696 1146 C700 1144 704.3 1140.3 708 1136 C711.7 1131.7 715.8 1124.3 718 1120 C720.2 1115.7 720.5 1111.7 721 1110"/>
<path d="M718 1090 C717.8 1091.7 717.7 1096.7 717 1100 C716.3 1103.3 715.5 1106.5 714 1110 C712.5 1113.5 709 1119.2 708 1121"/>
<ellipse cx="699.6" cy="1078" rx="3.8" ry="3" transform="rotate(-70 699.6 1078)"/>
<path d="M701.9 1077.5 C701.9 1077.6 701.9 1077.7 701.9 1077.8 C701.9 1077.9 701.9 1077.9 701.9 1078 C701.9 1078.1 701.9 1078.2 701.8 1078.3 C701.8 1078.3 701.8 1078.4 701.8 1078.5 C701.8 1078.6 701.7 1078.7 701.7 1078.7 C701.7 1078.8 701.6 1078.9 701.6 1079 C701.6 1079.1 701.5 1079.1 701.5 1079.2 C701.5 1079.3 701.4 1079.3 701.4 1079.4 C701.3 1079.5 701.3 1079.6 701.2 1079.6 C701.2 1079.7 701.1 1079.7 701.1 1079.8 C701 1079.9 701 1079.9 700.9 1080 C700.9 1080 700.8 1080.1 700.8 1080.1 C700.7 1080.2 700.7 1080.2 700.6 1080.2 C700.5 1080.3 700.5 1080.3 700.4 1080.3 C700.4 1080.4 700.3 1080.4 700.2 1080.4 C700.2 1080.4 700.1 1080.5 700.1 1080.5 C700 1080.5 699.9 1080.5 699.9 1080.5 C699.8 1080.5 699.8 1080.5 699.7 1080.5 C699.7 1080.5 699.6 1080.5 699.5 1080.5 C699.5 1080.5 699.4 1080.5 699.4 1080.5 C699.3 1080.4 699.3 1080.4 699.2 1080.4 C699.2 1080.4 699.1 1080.3 699.1 1080.3 C699 1080.3 699 1080.2 699 1080.2 C698.9 1080.1 698.9 1080.1 698.8 1080 C698.8 1080 698.8 1079.9 698.7 1079.9 C698.7 1079.8 698.7 1079.8 698.7 1079.7 C698.6 1079.6 698.6 1079.6 698.6 1079.5 C698.6 1079.4 698.5 1079.4 698.5 1079.3 C698.5 1079.2 698.5 1079.2 698.5 1079.1 C698.5 1079 698.5 1078.9 698.5 1078.9 C698.5 1078.8 698.5 1078.7 698.5 1078.6 C698.5 1078.5 698.5 1078.5 698.5 1078.4 C698.5 1078.3 698.5 1078.2 698.6 1078.1 C698.6 1078.1 698.6 1078 698.6 1077.9 C698.6 1077.8 698.7 1077.7 698.7 1077.7 C698.7 1077.6 698.8 1077.5 698.8 1077.4 C698.8 1077.3 698.9 1077.3 698.9 1077.2 C698.9 1077.1 699 1077.1 699 1077 C699.1 1076.9 699.1 1076.8 699.2 1076.8 C699.2 1076.7 699.3 1076.6 699.3 1076.6"/>
<ellipse cx="724.4" cy="1118" rx="3.8" ry="3" transform="rotate(-70 724.4 1118)"/>
<path d="M726.7 1117.5 C726.7 1117.6 726.7 1117.7 726.7 1117.8 C726.7 1117.9 726.7 1117.9 726.7 1118 C726.7 1118.1 726.7 1118.2 726.6 1118.3 C726.6 1118.3 726.6 1118.4 726.6 1118.5 C726.6 1118.6 726.5 1118.7 726.5 1118.7 C726.5 1118.8 726.4 1118.9 726.4 1119 C726.4 1119.1 726.3 1119.1 726.3 1119.2 C726.3 1119.3 726.2 1119.3 726.2 1119.4 C726.1 1119.5 726.1 1119.6 726 1119.6 C726 1119.7 725.9 1119.7 725.9 1119.8 C725.8 1119.9 725.8 1119.9 725.7 1120 C725.7 1120 725.6 1120.1 725.6 1120.1 C725.5 1120.2 725.5 1120.2 725.4 1120.2 C725.3 1120.3 725.3 1120.3 725.2 1120.3 C725.2 1120.4 725.1 1120.4 725 1120.4 C725 1120.4 724.9 1120.5 724.9 1120.5 C724.8 1120.5 724.7 1120.5 724.7 1120.5 C724.6 1120.5 724.6 1120.5 724.5 1120.5 C724.5 1120.5 724.4 1120.5 724.3 1120.5 C724.3 1120.5 724.2 1120.5 724.2 1120.5 C724.1 1120.4 724.1 1120.4 724 1120.4 C724 1120.4 723.9 1120.3 723.9 1120.3 C723.8 1120.3 723.8 1120.2 723.8 1120.2 C723.7 1120.1 723.7 1120.1 723.6 1120 C723.6 1120 723.6 1119.9 723.5 1119.9 C723.5 1119.8 723.5 1119.8 723.5 1119.7 C723.4 1119.6 723.4 1119.6 723.4 1119.5 C723.4 1119.4 723.3 1119.4 723.3 1119.3 C723.3 1119.2 723.3 1119.2 723.3 1119.1 C723.3 1119 723.3 1118.9 723.3 1118.9 C723.3 1118.8 723.3 1118.7 723.3 1118.6 C723.3 1118.5 723.3 1118.5 723.3 1118.4 C723.3 1118.3 723.3 1118.2 723.4 1118.1 C723.4 1118.1 723.4 1118 723.4 1117.9 C723.4 1117.8 723.5 1117.7 723.5 1117.7 C723.5 1117.6 723.6 1117.5 723.6 1117.4 C723.6 1117.3 723.7 1117.3 723.7 1117.2 C723.7 1117.1 723.8 1117.1 723.8 1117 C723.9 1116.9 723.9 1116.8 724 1116.8 C724 1116.7 724.1 1116.6 724.1 1116.6"/>
<ellipse cx="672.4" cy="1150.6" rx="3.8" ry="3" transform="rotate(-70 672.4 1150.6)"/>
<path d="M674.7 1150.1 C674.7 1150.2 674.7 1150.3 674.7 1150.4 C674.7 1150.5 674.7 1150.5 674.7 1150.6 C674.7 1150.7 674.7 1150.8 674.6 1150.9 C674.6 1150.9 674.6 1151 674.6 1151.1 C674.6 1151.2 674.5 1151.3 674.5 1151.3 C674.5 1151.4 674.4 1151.5 674.4 1151.6 C674.4 1151.7 674.3 1151.7 674.3 1151.8 C674.3 1151.9 674.2 1151.9 674.2 1152 C674.1 1152.1 674.1 1152.2 674 1152.2 C674 1152.3 673.9 1152.3 673.9 1152.4 C673.8 1152.5 673.8 1152.5 673.7 1152.6 C673.7 1152.6 673.6 1152.7 673.6 1152.7 C673.5 1152.8 673.5 1152.8 673.4 1152.8 C673.3 1152.9 673.3 1152.9 673.2 1152.9 C673.2 1153 673.1 1153 673 1153 C673 1153 672.9 1153.1 672.9 1153.1 C672.8 1153.1 672.7 1153.1 672.7 1153.1 C672.6 1153.1 672.6 1153.1 672.5 1153.1 C672.5 1153.1 672.4 1153.1 672.3 1153.1 C672.3 1153.1 672.2 1153.1 672.2 1153.1 C672.1 1153 672.1 1153 672 1153 C672 1153 671.9 1152.9 671.9 1152.9 C671.8 1152.9 671.8 1152.8 671.8 1152.8 C671.7 1152.7 671.7 1152.7 671.6 1152.6 C671.6 1152.6 671.6 1152.5 671.5 1152.5 C671.5 1152.4 671.5 1152.4 671.5 1152.3 C671.4 1152.2 671.4 1152.2 671.4 1152.1 C671.4 1152 671.3 1152 671.3 1151.9 C671.3 1151.8 671.3 1151.8 671.3 1151.7 C671.3 1151.6 671.3 1151.5 671.3 1151.5 C671.3 1151.4 671.3 1151.3 671.3 1151.2 C671.3 1151.1 671.3 1151.1 671.3 1151 C671.3 1150.9 671.3 1150.8 671.4 1150.7 C671.4 1150.7 671.4 1150.6 671.4 1150.5 C671.4 1150.4 671.5 1150.3 671.5 1150.3 C671.5 1150.2 671.6 1150.1 671.6 1150 C671.6 1149.9 671.7 1149.9 671.7 1149.8 C671.7 1149.7 671.8 1149.7 671.8 1149.6 C671.9 1149.5 671.9 1149.4 672 1149.4 C672 1149.3 672.1 1149.2 672.1 1149.2"/>
<path d="M593 1104 L636 1129"/>
<path d="M655 1160 L629 1196"/>
<text x="611" y="1212.3" font-size="19.2" text-anchor="start">19</text>
<path d="M772 1106.9 C775 1106 777.4 1109 781 1109.6 C784.6 1110.2 789.7 1109 793.6 1110.5 C797.5 1112 801.7 1115.1 804.4 1118.6 C807.1 1122 808.8 1126.4 809.8 1131.2 C810.8 1136 809.6 1142.9 810.2 1147.4 C810.8 1151.9 813.2 1154.7 813.4 1158.2 C813.6 1161.6 813.4 1165.1 811.6 1168.1 C809.8 1171.1 805.6 1173.3 802.6 1176.2 C799.6 1179 797.5 1181.9 793.6 1185.2 C789.7 1188.5 784 1193 779.2 1196 C774.4 1199 769.3 1201.8 764.8 1203.2 C760.3 1204.5 755.8 1203.5 752.2 1204.1 C748.6 1204.7 745.9 1206.9 743.2 1206.8 C740.5 1206.6 737.3 1206.2 736 1203.2 C734.6 1200.2 735.7 1193.6 735.1 1188.8 C734.5 1184 732.2 1179.8 732.4 1174.4 C732.5 1169 733.9 1162.4 736 1156.4 C738.1 1150.4 741.7 1143.5 745 1138.4 C748.3 1133.3 752.8 1129.7 755.8 1125.8 C758.8 1121.9 760.3 1118.1 763 1115 C765.7 1111.8 769 1107.8 772 1106.9 Z"/>
<path d="M772 1110.5 C770.8 1112 767.2 1116.3 764.8 1119.5 C762.4 1122.6 760.6 1125 757.6 1129.4 C754.6 1133.7 749.8 1139.9 746.8 1145.6 C743.8 1151.3 741 1157.6 739.6 1163.6 C738.2 1169.6 738.1 1176.2 738.2 1181.6 C738.2 1187 739.2 1192 740 1196 C740.7 1199.9 742.1 1203.8 742.5 1205.3"/>
<path d="M759.4 1188.8 C757 1188 755.9 1185.2 754 1183.4 C752 1181.6 748.7 1181.3 747.7 1178 C746.6 1174.7 746.6 1168.4 747.7 1163.6 C748.7 1158.8 751.4 1153.7 754 1149.2 C756.5 1144.7 760 1139.4 763 1136.6 C766 1133.7 769.3 1133.9 772 1132.1 C774.7 1130.3 776.5 1127.4 779.2 1125.8 C781.9 1124.1 785.5 1122.2 788.2 1122.2 C790.9 1122.2 793.6 1123.7 795.4 1125.8 C797.2 1127.9 798.5 1131.2 799 1134.8 C799.4 1138.4 799.3 1144.1 798.1 1147.4 C796.9 1150.7 793.4 1151.3 791.8 1154.6 C790.1 1157.9 790.3 1163 788.2 1167.2 C786.1 1171.4 782.5 1176.3 779.2 1179.8 C775.9 1183.2 771.7 1186.4 768.4 1187.9 C765.1 1189.4 761.8 1189.5 759.4 1188.8 Z"/>
<path d="M760.3 1193.3 C761.9 1192.9 766.7 1192.7 770.2 1191 C773.6 1189.2 777.7 1186.4 781 1183 C784.3 1179.7 787.9 1175.2 790 1170.8 C792.1 1166.4 791.9 1160 793.6 1156.4 C795.3 1152.8 799.1 1152.8 800.4 1149.2 C801.8 1145.6 802.1 1138.5 801.7 1134.8 C801.3 1131.1 798.7 1128.5 798.1 1127.2"/>
<path d="M778 1117.9 C778 1118 778.1 1118.2 778.1 1118.3 C778.2 1118.4 778.2 1118.5 778.3 1118.7 C778.3 1118.8 778.3 1118.9 778.3 1119.1 C778.4 1119.2 778.4 1119.3 778.4 1119.5 C778.4 1119.6 778.4 1119.7 778.4 1119.9 C778.4 1120 778.4 1120.1 778.4 1120.3 C778.3 1120.4 778.3 1120.5 778.3 1120.7 C778.2 1120.8 778.2 1120.9 778.2 1121.1 C778.1 1121.2 778.1 1121.3 778 1121.5 C777.9 1121.6 777.9 1121.7 777.8 1121.8 C777.7 1122 777.7 1122.1 777.6 1122.2 C777.5 1122.3 777.4 1122.4 777.3 1122.5 C777.2 1122.6 777.1 1122.7 777 1122.8 C776.9 1122.9 776.8 1123 776.7 1123.1 C776.6 1123.2 776.5 1123.3 776.4 1123.3 C776.3 1123.4 776.2 1123.5 776 1123.5 C775.9 1123.6 775.8 1123.6 775.7 1123.7 C775.5 1123.7 775.4 1123.8 775.3 1123.8 C775.2 1123.8 775 1123.9 774.9 1123.9 C774.8 1123.9 774.6 1123.9 774.5 1123.9 C774.4 1123.9 774.3 1123.9 774.1 1123.9 C774 1123.9 773.9 1123.9 773.8 1123.9 C773.6 1123.9 773.5 1123.8 773.4 1123.8 C773.3 1123.8 773.1 1123.7 773 1123.7 C772.9 1123.6 772.8 1123.6 772.7 1123.5 C772.6 1123.4 772.5 1123.4 772.4 1123.3 C772.3 1123.2 772.2 1123.1 772.1 1123.1 C772 1123 771.9 1122.9 771.8 1122.8 C771.7 1122.7 771.7 1122.6 771.6 1122.5 C771.5 1122.4 771.5 1122.3 771.4 1122.1 C771.3 1122 771.3 1121.9 771.2 1121.8 C771.2 1121.7 771.2 1121.5 771.1 1121.4 C771.1 1121.3 771.1 1121.1 771 1121 C771 1120.9 771 1120.8 771 1120.6 C771 1120.5 771 1120.3 771 1120.2 C771 1120.1 771 1119.9 771 1119.8 C771.1 1119.7 771.1 1119.5 771.1 1119.4 C771.1 1119.3 771.2 1119.1 771.2 1119 C771.3 1118.9 771.3 1118.7 771.4 1118.6 C771.4 1118.5 771.5 1118.4 771.6 1118.2 C771.6 1118.1 771.7 1118 771.8 1117.9 C771.9 1117.8 772 1117.7 772.1 1117.6 C772.2 1117.5 772.2 1117.3 772.3 1117.3 C772.4 1117.2 772.6 1117.1 772.7 1117 C772.8 1116.9 772.9 1116.8 773 1116.7"/>
<path d="M807.6 1162.1 C807.6 1162.2 807.7 1162.4 807.7 1162.5 C807.8 1162.7 807.8 1162.8 807.9 1163 C807.9 1163.1 807.9 1163.2 808 1163.4 C808 1163.5 808 1163.7 808 1163.8 C808 1164 808 1164.1 808 1164.3 C808 1164.5 808 1164.6 808 1164.8 C807.9 1164.9 807.9 1165.1 807.9 1165.2 C807.8 1165.4 807.8 1165.5 807.8 1165.7 C807.7 1165.8 807.6 1166 807.6 1166.1 C807.5 1166.2 807.4 1166.4 807.4 1166.5 C807.3 1166.7 807.2 1166.8 807.1 1166.9 C807 1167 806.9 1167.2 806.8 1167.3 C806.7 1167.4 806.6 1167.5 806.5 1167.6 C806.4 1167.7 806.3 1167.8 806.1 1167.9 C806 1168 805.9 1168.1 805.8 1168.2 C805.6 1168.3 805.5 1168.4 805.4 1168.4 C805.2 1168.5 805.1 1168.6 805 1168.6 C804.8 1168.7 804.7 1168.7 804.5 1168.7 C804.4 1168.8 804.2 1168.8 804.1 1168.8 C803.9 1168.9 803.8 1168.9 803.7 1168.9 C803.5 1168.9 803.4 1168.9 803.2 1168.9 C803.1 1168.9 802.9 1168.8 802.8 1168.8 C802.7 1168.8 802.5 1168.8 802.4 1168.7 C802.2 1168.7 802.1 1168.6 802 1168.6 C801.9 1168.5 801.7 1168.5 801.6 1168.4 C801.5 1168.3 801.4 1168.2 801.2 1168.2 C801.1 1168.1 801 1168 800.9 1167.9 C800.8 1167.8 800.7 1167.7 800.6 1167.6 C800.5 1167.5 800.4 1167.3 800.4 1167.2 C800.3 1167.1 800.2 1167 800.1 1166.9 C800.1 1166.7 800 1166.6 800 1166.5 C799.9 1166.3 799.9 1166.2 799.8 1166 C799.8 1165.9 799.8 1165.7 799.7 1165.6 C799.7 1165.4 799.7 1165.3 799.7 1165.1 C799.7 1165 799.7 1164.8 799.7 1164.7 C799.7 1164.5 799.7 1164.4 799.7 1164.2 C799.8 1164.1 799.8 1163.9 799.8 1163.8 C799.9 1163.6 799.9 1163.5 800 1163.3 C800 1163.2 800.1 1163 800.1 1162.9 C800.2 1162.7 800.3 1162.6 800.3 1162.5 C800.4 1162.3 800.5 1162.2 800.6 1162.1 C800.7 1161.9 800.8 1161.8 800.9 1161.7 C801 1161.6 801.1 1161.5 801.2 1161.4 C801.3 1161.3 801.4 1161.2 801.6 1161.1 C801.7 1161 801.9 1160.8 801.9 1160.8"/>
<path d="M751.9 1192.7 C752 1192.8 752.1 1193 752.1 1193.1 C752.2 1193.3 752.2 1193.4 752.3 1193.5 C752.3 1193.7 752.3 1193.8 752.3 1194 C752.4 1194.1 752.4 1194.3 752.4 1194.4 C752.4 1194.6 752.4 1194.7 752.4 1194.9 C752.4 1195 752.4 1195.2 752.4 1195.4 C752.3 1195.5 752.3 1195.7 752.3 1195.8 C752.2 1196 752.2 1196.1 752.1 1196.3 C752.1 1196.4 752 1196.6 752 1196.7 C751.9 1196.8 751.8 1197 751.7 1197.1 C751.7 1197.3 751.6 1197.4 751.5 1197.5 C751.4 1197.6 751.3 1197.8 751.2 1197.9 C751.1 1198 751 1198.1 750.9 1198.2 C750.8 1198.3 750.6 1198.4 750.5 1198.5 C750.4 1198.6 750.3 1198.7 750.1 1198.8 C750 1198.9 749.9 1199 749.8 1199 C749.6 1199.1 749.5 1199.1 749.3 1199.2 C749.2 1199.3 749.1 1199.3 748.9 1199.3 C748.8 1199.4 748.6 1199.4 748.5 1199.4 C748.3 1199.5 748.2 1199.5 748 1199.5 C747.9 1199.5 747.8 1199.5 747.6 1199.5 C747.5 1199.5 747.3 1199.4 747.2 1199.4 C747 1199.4 746.9 1199.4 746.8 1199.3 C746.6 1199.3 746.5 1199.2 746.4 1199.2 C746.2 1199.1 746.1 1199.1 746 1199 C745.9 1198.9 745.7 1198.8 745.6 1198.8 C745.5 1198.7 745.4 1198.6 745.3 1198.5 C745.2 1198.4 745.1 1198.3 745 1198.2 C744.9 1198.1 744.8 1197.9 744.8 1197.8 C744.7 1197.7 744.6 1197.6 744.5 1197.5 C744.5 1197.3 744.4 1197.2 744.4 1197.1 C744.3 1196.9 744.3 1196.8 744.2 1196.6 C744.2 1196.5 744.1 1196.3 744.1 1196.2 C744.1 1196 744.1 1195.9 744.1 1195.7 C744.1 1195.6 744.1 1195.4 744.1 1195.3 C744.1 1195.1 744.1 1195 744.1 1194.8 C744.1 1194.7 744.2 1194.5 744.2 1194.4 C744.2 1194.2 744.3 1194.1 744.3 1193.9 C744.4 1193.8 744.4 1193.6 744.5 1193.5 C744.6 1193.3 744.7 1193.2 744.7 1193.1 C744.8 1192.9 744.9 1192.8 745 1192.7 C745.1 1192.5 745.2 1192.4 745.3 1192.3 C745.4 1192.2 745.5 1192.1 745.6 1192 C745.7 1191.9 745.8 1191.8 745.9 1191.7 C746.1 1191.6 746.3 1191.4 746.3 1191.4"/>
<path d="M810.7 1146.5 L833.2 1141"/>
<text x="836.5" y="1145.5" font-size="19.2" text-anchor="start">21</text>
<path d="M571.3 1085.5 C571.3 1085.7 571.3 1086.2 571.3 1086.5 C571.3 1086.9 571.2 1087.2 571.2 1087.6 C571.1 1087.9 571 1088.3 570.9 1088.6 C570.9 1089 570.8 1089.3 570.6 1089.7 C570.5 1090 570.4 1090.4 570.3 1090.7 C570.1 1091 570 1091.4 569.8 1091.7 C569.7 1092 569.5 1092.3 569.3 1092.6 C569.1 1093 568.9 1093.3 568.7 1093.5 C568.5 1093.8 568.3 1094.1 568.1 1094.4 C567.9 1094.7 567.7 1094.9 567.4 1095.2 C567.2 1095.4 567 1095.6 566.7 1095.8 C566.5 1096.1 566.2 1096.3 566 1096.5 C565.7 1096.6 565.4 1096.8 565.2 1097 C564.9 1097.1 564.6 1097.3 564.4 1097.4 C564.1 1097.5 563.8 1097.6 563.6 1097.7 C563.3 1097.8 563 1097.9 562.8 1097.9 C562.5 1098 562.2 1098 562 1098 C561.7 1098 561.4 1098 561.2 1098 C560.9 1098 560.7 1097.9 560.4 1097.9 C560.2 1097.8 559.9 1097.7 559.7 1097.6 C559.5 1097.5 559.2 1097.4 559 1097.3 C558.8 1097.2 558.6 1097 558.4 1096.9 C558.2 1096.7 558 1096.5 557.8 1096.3 C557.7 1096.1 557.5 1095.9 557.3 1095.7 C557.2 1095.5 557 1095.3 556.9 1095 C556.8 1094.8 556.6 1094.5 556.5 1094.2 C556.4 1093.9 556.3 1093.7 556.2 1093.4 C556.2 1093.1 556.1 1092.8 556 1092.4 C556 1092.1 555.9 1091.8 555.9 1091.5 C555.9 1091.2 555.9 1090.8 555.9 1090.5 C555.9 1090.1 555.9 1089.8 555.9 1089.5 C555.9 1089.1 556 1088.8 556 1088.4 C556.1 1088.1 556.2 1087.7 556.3 1087.4 C556.3 1087 556.4 1086.7 556.6 1086.3 C556.7 1086 556.8 1085.6 556.9 1085.3 C557.1 1085 557.2 1084.6 557.4 1084.3 C557.5 1084 557.7 1083.7 557.9 1083.4 C558.1 1083 558.3 1082.7 558.5 1082.5 C558.7 1082.2 558.9 1081.9 559.1 1081.6 C559.3 1081.3 559.7 1081 559.8 1080.8"/>
<ellipse cx="569" cy="1089.4" rx="9.6" ry="6.6" transform="rotate(-68 569 1089.4)" style="fill:#fff"/>
<path d="M574.2 1087.1 C574.2 1087.2 574.2 1087.5 574.2 1087.7 C574.2 1087.9 574.2 1088.1 574.2 1088.3 C574.2 1088.5 574.2 1088.7 574.1 1089 C574.1 1089.2 574.1 1089.4 574 1089.6 C574 1089.8 573.9 1090.1 573.9 1090.3 C573.8 1090.5 573.7 1090.7 573.7 1090.9 C573.6 1091.2 573.5 1091.4 573.4 1091.6 C573.3 1091.8 573.2 1092 573.1 1092.2 C573 1092.4 572.9 1092.6 572.8 1092.8 C572.7 1093 572.5 1093.2 572.4 1093.4 C572.3 1093.6 572.2 1093.7 572 1093.9 C571.9 1094.1 571.7 1094.2 571.6 1094.4 C571.4 1094.5 571.3 1094.7 571.1 1094.8 C571 1094.9 570.8 1095.1 570.7 1095.2 C570.5 1095.3 570.4 1095.4 570.2 1095.5 C570 1095.6 569.9 1095.7 569.7 1095.8 C569.6 1095.8 569.4 1095.9 569.2 1095.9 C569.1 1096 568.9 1096 568.8 1096.1 C568.6 1096.1 568.5 1096.1 568.3 1096.1 C568.1 1096.1 568 1096.1 567.8 1096.1 C567.7 1096.1 567.5 1096.1 567.4 1096 C567.3 1096 567.1 1095.9 567 1095.9 C566.9 1095.8 566.7 1095.7 566.6 1095.6 C566.5 1095.6 566.4 1095.5 566.3 1095.4 C566.1 1095.3 566 1095.1 565.9 1095 C565.8 1094.9 565.8 1094.8 565.7 1094.6 C565.6 1094.5 565.5 1094.3 565.4 1094.2 C565.4 1094 565.3 1093.8 565.3 1093.7 C565.2 1093.5 565.2 1093.3 565.1 1093.1 C565.1 1092.9 565 1092.7 565 1092.5 C565 1092.3 565 1092.1 565 1091.9 C565 1091.7 565 1091.5 565 1091.3 C565 1091.1 565 1090.9 565.1 1090.6 C565.1 1090.4 565.1 1090.2 565.2 1090 C565.2 1089.8 565.3 1089.5 565.3 1089.3 C565.4 1089.1 565.5 1088.9 565.5 1088.7 C565.6 1088.4 565.7 1088.2 565.8 1088 C565.9 1087.8 566 1087.6 566.1 1087.4 C566.2 1087.2 566.3 1087 566.4 1086.8 C566.5 1086.6 566.7 1086.4 566.8 1086.2 C566.9 1086 567 1085.9 567.2 1085.7 C567.3 1085.5 567.5 1085.4 567.6 1085.2 C567.8 1085.1 567.9 1084.9 568.1 1084.8 C568.2 1084.7 568.4 1084.5 568.5 1084.4 C568.7 1084.3 568.9 1084.2 569 1084.1"/>
<path d="M560.8 1079.8 C561.5 1079.4 563.5 1077.5 565 1077.4 C566.5 1077.3 568.2 1078.2 569.8 1079 C571.4 1079.8 573.8 1081.7 574.6 1082.2"/>
<ellipse cx="574.5" cy="1092.8" rx="4" ry="2.2" transform="rotate(-64 574.5 1092.8)" style="fill:#fff"/>
<ellipse cx="577.6" cy="1094.6" rx="4" ry="2.2" transform="rotate(-64 577.6 1094.6)" style="fill:#fff"/>
<ellipse cx="580.8" cy="1096.4" rx="4" ry="2.2" transform="rotate(-64 580.8 1096.4)" style="fill:#fff"/>
<ellipse cx="583.9" cy="1098.2" rx="4" ry="2.2" transform="rotate(-64 583.9 1098.2)" style="fill:#fff"/>
<ellipse cx="587" cy="1100" rx="4" ry="2.2" transform="rotate(-64 587 1100)" style="fill:#fff"/>
<path d="M524.8 1094.8 L555.4 1088.8"/>
<text x="498.5" y="1103" font-size="19.2" text-anchor="start">20</text>
<path d="M96 1232 L111.6 1206.8 L114 1211.6 L147.6 1192.4 L150 1216.4 L116.4 1230.8 L114 1241.6 Z" stroke-width="1.3"/>
<path d="M96.5 1233 L114.5 1242.6 L116.9 1231.8 L150.5 1217.4 L148.3 1193.1" stroke-width="1.9"/>
<text transform="matrix(0.626 -0.27 -0.26 1.12 115.4 1230)" font-size="21" font-weight="bold">FWD</text>
<text x="91.8" y="1269.3" font-size="18.5" text-anchor="start">8DG2100-0100</text>
<text x="155" y="568.5" font-size="19.2" text-anchor="start">2</text>
<path d="M171 561 L214.5 555"/>
<text x="559.5" y="531.2" font-size="19.2" text-anchor="start">3</text>
<path d="M557 533.5 L512 570"/>
<text x="453.2" y="512.3" font-size="19.2" text-anchor="start">5</text>
<path d="M455.5 517 L428.7 546.6"/>
<text x="445" y="421.5" font-size="19.2" text-anchor="start">12</text>
<path d="M458 426 L480 448"/>
<text x="544.5" y="346.5" font-size="19.2" text-anchor="start">14</text>
<path d="M556 350 L580 389"/>
</svg>
</body></html>
